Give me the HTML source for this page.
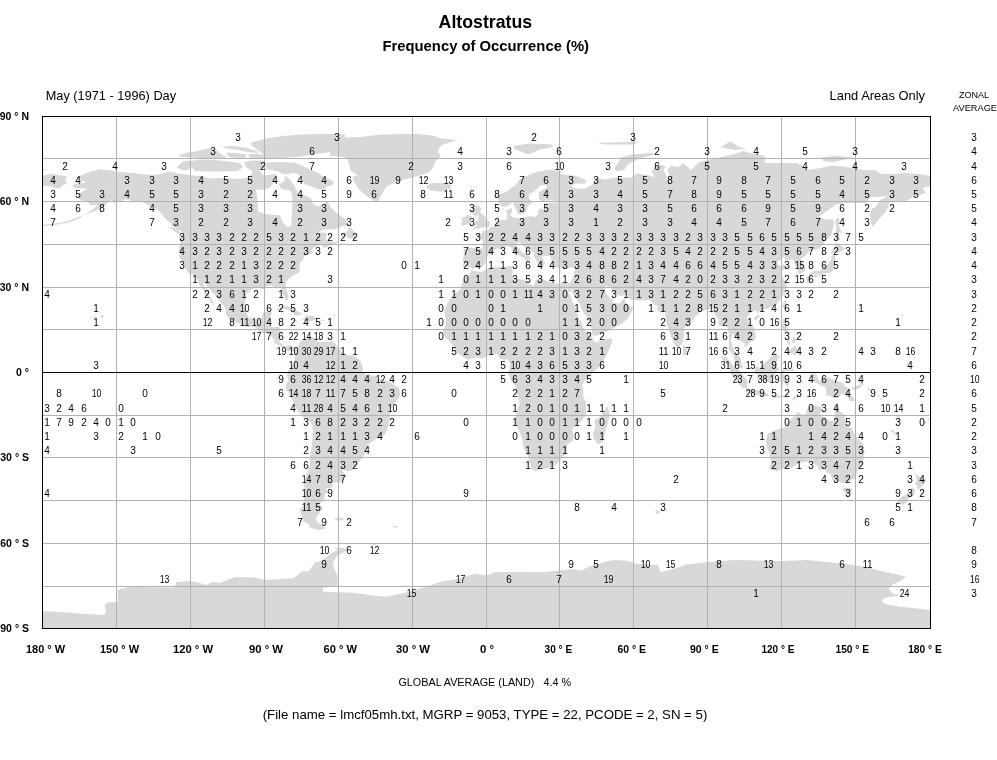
<!DOCTYPE html>
<html><head><meta charset="utf-8"><style>html,body{margin:0;padding:0;background:#fff;overflow:hidden;}svg{display:block;font-family:"Liberation Sans",sans-serif;filter:grayscale(100%);}</style></head>
<body><svg width="997" height="760" viewBox="0 0 997 760"><polygon points="71.6,185.4 76.5,183.4 86.4,182.8 80.2,180.0 74.6,177.7 83.9,174.3 91.3,171.5 100.0,169.2 111.1,170.6 120.9,172.0 133.3,172.9 143.1,174.3 153.0,174.9 160.4,173.7 170.3,171.5 177.7,173.5 190.0,175.2 202.3,176.3 209.7,178.6 219.6,178.0 229.5,178.6 239.3,179.1 246.7,178.0 251.7,174.3 252.9,168.6 257.8,168.6 264.0,175.7 273.9,174.3 283.7,173.5 288.7,178.6 293.6,184.3 296.1,190.0 298.5,193.9 303.5,194.8 310.9,197.9 313.3,204.2 318.3,206.5 323.2,204.7 326.9,200.5 330.6,207.0 334.3,211.3 339.2,214.7 344.2,218.4 348.4,222.7 347.9,225.2 342.9,226.1 335.5,229.2 328.1,229.2 322.0,230.3 317.0,232.6 312.1,237.5 314.6,235.8 322.0,232.3 327.4,233.2 326.2,236.0 325.7,239.2 328.1,241.2 334.3,242.0 338.0,241.2 338.0,242.3 331.8,244.9 323.9,248.3 322.7,245.7 320.7,244.9 315.8,246.8 312.8,248.0 311.4,250.8 313.3,253.1 309.6,254.5 304.0,256.2 303.5,259.4 301.0,261.6 299.3,265.3 299.8,271.6 297.1,273.6 292.4,275.9 289.9,278.1 286.2,281.3 285.5,285.8 287.4,292.4 288.7,296.6 287.7,300.3 286.0,300.3 284.2,296.6 282.0,292.9 282.0,288.9 278.8,286.7 275.3,287.5 271.4,285.5 266.5,285.8 265.7,288.9 262.8,289.5 259.1,287.8 254.1,287.8 251.7,289.5 246.7,293.2 245.7,298.6 245.0,303.7 246.0,309.4 246.0,312.3 248.7,317.4 252.9,320.2 259.1,319.1 261.5,318.0 263.0,312.8 268.9,310.8 271.9,311.7 270.2,318.0 268.4,325.6 272.6,327.1 278.8,327.1 280.8,329.6 279.8,336.4 279.5,340.7 281.3,343.6 285.0,346.7 289.9,344.7 294.6,347.5 295.6,349.5 293.6,351.5 288.2,351.2 284.5,349.2 278.8,345.0 274.6,343.6 274.4,339.9 270.2,335.0 261.5,332.5 258.3,330.8 254.1,326.5 248.0,327.3 243.0,325.6 235.6,322.2 228.2,317.4 225.8,313.7 226.3,310.3 223.3,305.2 218.4,299.5 215.9,296.1 212.2,292.4 208.0,286.7 203.1,281.8 204.1,286.7 208.0,291.5 209.7,296.6 213.4,302.3 214.7,306.9 211.0,302.3 209.0,298.6 204.1,293.8 204.3,290.9 199.9,285.8 197.2,279.6 193.7,275.3 188.5,273.6 185.3,268.2 183.8,264.5 180.6,258.8 179.1,257.1 179.9,252.5 178.9,249.7 180.4,240.6 178.4,234.3 182.6,234.9 181.4,231.2 176.4,228.9 171.5,225.5 170.3,222.7 165.3,218.4 161.6,214.1 155.5,208.4 149.3,205.6 141.9,201.9 133.3,201.3 125.9,199.3 120.9,201.3 114.3,203.0 111.1,199.9 106.1,204.2 101.2,207.9 96.3,210.4 88.9,213.3 82.7,216.1 86.4,213.8 93.8,208.4 97.5,205.0 91.3,205.3 86.4,201.6 80.2,199.9 77.8,197.1 79.5,193.4 87.6,188.5 76.5,188.2 71.6,185.4" fill="#d8d8d8"/><polygon points="181.9,234.6 176.4,232.9 169.5,227.8 172.7,227.5 178.2,230.1" fill="#d8d8d8"/><polygon points="426.8,185.7 431.7,183.1 446.5,182.8 451.5,185.7 450.2,188.8 441.6,191.7 430.5,190.5 426.8,187.7" fill="#d8d8d8"/><polygon points="462.6,266.8 464.0,262.5 462.6,259.6 464.3,254.0 463.3,249.7 466.3,247.7 476.1,248.3 482.3,248.6 483.0,241.2 479.8,237.5 474.4,234.3 482.3,233.5 482.3,230.6 486.5,230.9 489.7,229.2 489.9,227.2 493.4,226.4 495.9,224.7 497.8,221.2 503.3,219.8 507.0,219.8 507.2,215.6 506.0,210.4 511.9,207.9 511.9,211.9 510.2,215.6 512.9,217.3 515.6,217.8 520.5,218.4 526.7,216.7 531.6,216.1 534.8,217.3 537.8,214.7 537.8,210.4 540.3,208.2 544.0,209.9 545.9,207.6 544.0,203.6 555.1,202.8 560.0,201.3 550.1,200.2 542.2,201.3 538.8,199.1 539.0,195.6 538.3,192.2 542.7,190.0 547.7,187.1 545.2,184.8 540.3,185.4 537.8,188.5 534.1,191.4 529.2,194.2 528.7,198.5 531.6,200.8 532.4,203.0 527.9,205.6 526.7,209.9 525.5,212.1 521.3,214.1 517.8,214.4 517.1,212.1 515.1,207.9 513.6,204.2 512.4,201.6 510.7,204.2 505.7,206.7 502.0,206.7 499.8,204.5 498.3,199.9 498.3,195.6 502.0,193.4 507.0,191.4 510.7,188.5 515.6,184.8 519.3,180.0 523.0,177.2 527.9,175.4 532.9,172.9 540.3,171.5 548.9,169.8 555.1,170.0 562.5,172.0 558.8,173.7 567.4,174.9 574.8,175.7 582.2,178.3 587.1,180.9 584.7,183.4 573.6,183.7 571.8,187.1 577.3,189.1 585.9,188.2 593.3,183.7 594.5,179.1 595.8,177.4 599.5,178.6 604.4,179.4 618.0,177.2 619.2,178.0 631.5,177.2 634.0,175.7 636.5,173.5 648.8,175.2 655.0,177.7 651.3,170.9 653.7,168.6 658.7,163.5 661.1,164.9 665.6,166.6 663.6,170.6 667.3,177.2 664.8,180.0 669.8,177.2 667.3,170.0 671.0,165.8 678.4,167.2 683.3,162.9 690.7,170.0 689.5,171.5 698.1,162.9 700.6,161.5 720.3,157.2 732.7,154.4 743.8,151.0 749.9,153.0 764.7,155.8 764.7,162.9 777.1,162.9 796.8,162.9 804.2,167.2 809.1,170.0 819.0,168.3 831.3,165.8 843.7,166.6 856.0,168.6 863.4,170.0 875.7,170.3 880.7,173.7 893.0,174.0 905.3,172.9 917.7,173.7 930.0,176.0 930.0,186.3 922.6,188.0 926.3,192.8 915.2,196.2 905.3,201.3 895.5,201.9 889.3,202.2 888.1,207.0 885.6,212.1 880.7,217.0 877.0,221.5 872.5,226.9 870.8,222.7 869.8,215.6 872.0,208.4 875.7,207.0 880.7,199.9 888.1,195.6 880.7,197.1 870.8,196.8 865.9,203.6 856.0,202.8 843.7,203.3 836.3,204.2 832.6,207.0 826.4,211.3 819.0,216.4 823.9,219.0 832.6,219.8 834.5,222.7 832.6,229.8 831.3,235.5 826.4,239.7 820.2,247.7 814.1,250.3 810.4,251.1 808.4,251.7 805.9,255.4 801.7,258.2 800.5,259.1 803.0,262.5 805.2,266.8 805.2,271.0 800.5,273.3 797.5,273.9 798.0,270.2 798.0,266.8 794.8,264.8 794.3,262.5 793.1,258.8 785.7,261.1 784.5,256.2 779.5,260.2 776.6,262.5 778.3,263.9 780.0,266.2 783.7,264.5 788.2,266.5 783.2,269.6 780.8,272.4 784.0,279.6 786.4,283.0 786.9,286.7 785.7,290.9 781.5,298.0 775.8,305.2 767.7,308.6 762.3,310.3 758.6,311.7 757.8,314.3 756.6,310.8 752.4,310.8 748.9,314.3 746.7,318.0 748.7,322.2 754.4,328.2 755.9,336.4 754.9,339.9 749.2,342.7 745.0,347.5 744.5,343.0 740.1,340.7 738.3,337.3 734.9,335.9 732.7,333.6 730.7,340.7 733.2,347.8 735.1,352.4 738.1,354.4 741.1,359.2 741.3,364.3 743.3,368.0 741.3,368.3 735.9,364.0 733.7,359.2 733.4,355.5 728.5,349.2 729.0,343.6 729.0,335.0 727.0,325.1 725.8,323.9 719.1,326.5 718.4,318.8 715.4,315.1 712.9,310.8 712.4,308.0 709.2,309.4 705.5,310.0 700.4,311.7 695.7,316.5 689.0,324.8 684.1,327.9 683.8,335.0 682.8,342.7 678.9,346.7 677.2,349.0 674.2,343.8 671.0,336.4 668.5,329.3 666.1,322.2 665.6,316.5 665.1,311.4 664.1,310.8 659.9,312.8 656.2,308.6 659.2,306.9 654.7,304.9 651.3,301.5 650.3,299.8 645.1,300.3 637.9,300.3 629.1,299.2 627.3,295.2 624.9,294.9 620.4,296.1 614.3,292.9 610.6,288.1 606.4,286.1 604.4,287.0 606.4,293.8 609.3,297.5 611.3,299.5 613.0,298.3 612.3,302.3 619.2,303.4 624.1,298.6 625.1,296.9 624.9,301.5 627.8,304.3 633.5,308.0 630.3,313.7 628.3,318.0 625.4,320.8 621.7,323.6 614.8,327.6 606.9,331.6 597.0,335.6 593.1,335.9 591.3,329.3 590.8,324.2 586.6,316.5 582.2,310.8 579.7,303.7 576.0,298.0 572.3,292.4 572.1,288.1 570.6,292.4 568.6,291.5 566.2,286.7 565.7,283.3 570.4,283.0 572.3,278.7 573.6,273.9 574.8,270.2 575.3,267.9 571.1,267.3 566.2,269.3 561.2,268.2 555.1,267.6 553.3,265.3 551.4,262.5 551.4,259.6 550.6,257.4 550.1,255.9 545.2,255.9 542.2,256.8 544.0,261.1 545.2,263.3 542.7,265.9 541.5,268.5 539.5,267.3 538.3,263.9 535.8,259.6 533.9,256.8 533.9,253.1 531.6,251.1 525.5,248.3 523.0,245.4 519.8,242.3 516.3,243.1 516.8,246.8 519.5,248.3 521.8,252.0 525.5,254.0 531.6,257.7 527.9,260.5 526.7,262.5 524.7,263.9 525.5,259.6 524.2,257.9 520.5,255.9 516.8,254.0 513.1,251.1 511.9,248.3 507.7,245.7 504.5,247.4 500.8,249.4 497.1,248.6 493.4,249.7 493.9,252.5 488.0,255.4 486.0,259.6 485.3,262.5 484.0,265.0 480.8,267.6 474.9,268.2 472.2,269.6 470.5,267.3 467.5,266.2 464.0,266.8" fill="#d8d8d8"/><polygon points="42.0,176.0 51.9,173.5 59.3,174.9 66.7,176.3 65.4,180.6 67.4,184.0 63.0,184.8 59.3,188.5 54.3,187.7 49.4,185.7 45.7,185.7 42.0,186.3" fill="#d8d8d8"/><polygon points="471.4,270.2 481.1,272.2 488.5,268.2 493.4,267.3 503.3,266.8 510.7,265.9 513.1,266.8 511.9,269.6 513.1,272.4 510.9,274.7 514.4,277.6 518.1,278.4 523.7,280.1 527.9,283.8 532.9,285.8 535.3,283.8 535.3,280.4 539.0,278.4 542.7,279.3 547.7,281.5 557.5,284.1 562.5,282.1 565.7,283.3 566.2,286.7 567.4,290.9 569.9,295.2 573.6,303.7 577.3,310.8 578.0,318.0 581.2,321.4 583.4,327.9 588.4,333.6 592.8,336.7 592.8,339.3 595.8,342.4 601.9,340.1 612.3,338.4 611.8,342.4 608.1,352.1 604.4,359.2 599.5,366.3 592.1,373.4 588.4,377.1 584.7,380.5 582.2,385.4 583.4,391.9 583.2,396.2 585.9,401.9 585.9,414.7 582.2,420.4 576.0,425.5 572.3,428.9 573.6,434.6 573.6,440.3 567.4,444.5 566.9,447.4 566.2,453.1 562.5,457.3 560.0,461.0 555.1,465.3 550.1,468.1 545.2,468.7 540.3,469.3 535.3,471.0 531.6,469.3 530.4,464.4 527.9,455.9 523.7,448.8 521.8,437.4 519.3,431.7 515.6,423.2 515.1,418.9 516.8,410.4 520.0,403.3 518.1,397.6 516.1,389.1 515.6,386.2 510.7,380.5 508.2,374.0 509.4,369.2 510.2,363.5 508.2,360.6 507.0,359.2 503.3,359.8 499.6,358.3 497.1,354.1 490.9,354.1 483.5,357.8 481.1,358.6 476.1,357.2 467.5,359.5 463.8,357.8 457.6,352.7 453.9,348.7 452.7,345.0 449.0,340.7 444.8,336.7 442.8,330.2 445.3,326.5 446.0,318.0 444.1,312.3 446.5,305.2 450.2,298.0 453.9,293.2 457.6,291.8 461.3,288.1 461.8,283.3 465.0,277.3 469.2,275.3 471.2,270.5" fill="#d8d8d8"/><polygon points="607.6,406.1 610.3,416.1 608.1,421.8 605.6,430.3 603.2,441.7 597.5,444.5 593.8,438.8 592.8,433.2 595.5,427.5 594.5,420.4 599.5,416.9 604.4,410.4" fill="#d8d8d8"/><polygon points="295.3,347.8 298.5,345.0 299.8,342.1 303.5,340.1 308.4,337.3 309.6,340.7 308.9,338.4 313.3,337.3 318.3,342.1 323.2,341.8 328.1,341.6 333.1,341.6 335.5,343.6 338.0,347.8 341.7,352.1 345.4,354.9 352.8,355.5 357.7,358.3 360.2,360.6 362.7,366.9 362.7,372.0 366.4,374.8 375.0,375.7 382.4,380.0 389.8,382.0 394.7,385.7 399.2,387.6 400.2,393.3 399.2,397.6 394.7,403.3 391.0,409.0 389.8,414.7 389.3,422.3 387.3,428.9 384.9,434.6 379.9,437.4 375.0,439.7 367.6,444.5 366.1,451.6 362.7,457.3 359.0,462.5 355.3,467.3 351.6,471.0 346.6,471.0 343.4,469.6 341.7,470.1 344.7,473.8 344.2,480.1 338.0,482.4 332.3,482.4 332.6,487.2 325.7,488.6 328.1,492.3 324.9,494.3 324.4,500.0 319.5,504.0 323.2,508.0 318.3,514.2 315.8,518.5 317.3,521.0 313.3,522.8 310.9,525.6 303.5,521.3 299.8,510.0 303.5,504.3 304.7,491.5 304.2,482.9 305.9,477.2 309.6,465.9 309.9,457.3 312.1,443.1 312.8,428.9 312.3,424.3 309.6,421.8 301.0,415.5 297.8,410.4 294.8,406.1 291.1,397.6 287.9,391.9 285.5,387.6 286.2,383.4 288.7,380.5 286.7,374.8 288.7,370.6 291.1,367.7 291.6,364.9 294.8,360.6 295.1,353.5 293.6,350.7" fill="#d8d8d8"/><polygon points="316.8,521.6 325.7,528.4 318.3,529.9 308.4,527.0 313.3,522.8" fill="#d8d8d8"/><polygon points="767.2,434.6 766.0,441.7 767.2,447.4 769.7,455.9 771.4,463.0 769.7,467.6 769.7,469.6 777.1,471.6 782.0,468.7 790.6,468.4 796.8,463.9 804.2,461.9 810.4,461.6 816.5,465.0 820.2,471.0 823.9,467.3 825.9,464.4 825.2,470.1 827.6,473.0 830.1,473.5 832.6,480.1 840.0,482.4 846.9,483.2 851.1,479.5 856.0,478.7 856.5,473.0 859.2,468.1 862.2,463.9 864.6,453.1 863.4,444.5 858.5,438.8 854.8,434.6 852.3,429.5 846.1,424.6 844.9,417.5 844.4,414.1 840.0,411.8 837.5,402.4 835.3,407.6 835.0,414.7 833.3,421.5 828.9,420.4 823.9,416.9 820.2,414.7 822.7,406.1 823.4,407.0 819.0,406.7 812.8,404.7 809.1,406.7 806.7,409.8 805.4,414.7 801.7,414.7 798.0,411.8 794.3,416.1 790.6,418.9 787.4,423.2 784.5,427.5 779.5,428.9 773.9,430.6 768.4,433.2" fill="#d8d8d8"/><polygon points="842.7,487.8 851.8,488.3 851.1,494.3 848.1,496.0 844.2,492.0" fill="#d8d8d8"/><polygon points="912.0,469.8 916.4,474.4 919.6,476.7 926.3,479.2 924.8,483.5 922.1,485.8 918.2,490.3 916.7,485.2 914.7,483.5 916.7,481.5 916.4,476.7" fill="#d8d8d8"/><polygon points="912.0,487.2 915.9,490.6 912.7,495.7 908.3,498.6 906.6,502.6 902.9,504.8 896.7,502.8 897.4,500.0 901.1,497.2 906.6,494.3 910.3,490.0" fill="#d8d8d8"/><polygon points="808.9,275.3 812.8,271.3 820.2,270.7 823.4,265.9 827.6,264.5 831.3,259.6 831.3,255.9 835.0,254.2 835.0,258.2 836.3,260.2 833.8,263.1 833.8,267.3 833.1,270.5 830.8,272.4 827.6,273.3 823.9,273.6 819.7,276.7 819.0,273.6 814.1,274.4 809.1,275.6" fill="#d8d8d8"/><polygon points="805.9,277.3 809.1,275.6 811.6,278.1 809.9,282.7 807.2,283.5 806.2,279.0" fill="#d8d8d8"/><polygon points="812.8,277.6 814.1,275.3 818.0,274.7 818.5,276.1 815.3,277.6" fill="#d8d8d8"/><polygon points="831.3,254.0 834.3,253.1 839.5,252.5 844.9,248.8 842.4,246.8 836.0,242.6 834.5,248.3 832.1,249.1 831.6,252.0" fill="#d8d8d8"/><polygon points="836.3,241.2 840.0,239.7 839.0,232.1 842.4,233.2 838.7,225.5 839.5,219.8 837.5,217.5 835.5,220.4 836.3,226.9 835.8,235.5" fill="#d8d8d8"/><polygon points="782.2,306.6 784.5,300.0 786.9,300.9 784.5,309.4" fill="#d8d8d8"/><polygon points="753.9,317.4 758.6,314.8 759.8,316.2 756.1,320.2 754.1,319.4" fill="#d8d8d8"/><polygon points="782.0,326.5 783.2,319.4 787.7,319.4 786.9,325.1 788.2,332.2 791.9,335.0 789.4,333.6 785.7,332.7 783.5,331.0" fill="#d8d8d8"/><polygon points="786.9,352.1 790.6,349.2 795.6,345.0 798.0,350.7 795.6,355.5 791.9,353.5" fill="#d8d8d8"/><polygon points="793.1,336.4 796.1,340.1 794.3,343.6 791.9,342.1" fill="#d8d8d8"/><polygon points="786.9,338.4 789.9,340.7 789.4,345.8 787.7,343.6" fill="#d8d8d8"/><polygon points="754.9,367.7 756.3,366.3 759.8,367.7 764.7,362.9 770.9,356.9 774.1,352.1 780.3,356.9 777.1,359.2 776.6,366.3 779.5,369.7 775.8,372.0 773.4,379.1 772.1,382.8 768.4,382.0 764.7,381.1 761.5,380.5 757.8,380.2 757.3,376.3 754.9,372.0" fill="#d8d8d8"/><polygon points="721.1,356.1 726.5,357.2 729.0,361.2 733.9,366.3 741.3,372.0 743.8,376.3 747.5,380.5 747.0,388.5 743.8,388.8 738.3,383.4 735.1,379.1 731.4,374.8 729.5,367.7 726.0,363.8 722.8,359.8" fill="#d8d8d8"/><polygon points="745.5,391.3 747.5,388.8 753.1,389.9 758.6,390.5 763.5,391.6 768.4,394.2 768.2,396.7 759.8,395.6 752.4,394.2 748.7,393.0" fill="#d8d8d8"/><polygon points="791.9,400.4 794.3,396.2 799.8,395.9 792.6,400.7" fill="#d8d8d8"/><polygon points="772.1,396.2 779.5,395.3 789.4,395.3 789.4,397.0 779.5,397.6 772.1,397.6" fill="#d8d8d8"/><polygon points="779.0,380.5 780.3,372.0 782.0,370.0 785.7,369.2 791.9,369.4 794.3,367.7 793.1,370.9 784.5,371.1 782.5,374.3 785.7,374.8 790.1,374.3 785.7,377.4 788.9,384.8 787.9,387.4 784.5,383.4 783.5,380.0 783.0,387.6 780.8,387.6 780.8,382.0" fill="#d8d8d8"/><polygon points="809.1,375.7 812.8,373.1 816.5,374.6 819.0,381.4 825.2,376.3 831.3,378.8 837.5,381.1 842.4,383.1 845.6,386.8 849.8,389.4 849.1,393.0 852.3,396.2 856.0,401.3 849.8,400.7 846.1,395.0 841.2,393.9 839.5,397.6 833.8,398.2 828.9,395.0 826.4,395.9 825.7,387.6 819.0,384.5 815.3,382.8 811.6,380.0 814.1,378.8" fill="#d8d8d8"/><polygon points="852.3,387.6 856.0,386.2 860.9,383.9 861.7,386.2 857.2,389.6 852.3,389.4" fill="#d8d8d8"/><polygon points="682.8,354.4 683.3,345.0 685.8,347.8 688.0,351.5 687.0,354.4 684.6,355.2" fill="#d8d8d8"/><polygon points="471.9,229.8 478.6,228.1 489.5,226.6 490.2,222.1 486.7,220.1 485.5,217.5 482.1,213.8 479.8,212.7 481.6,208.4 477.9,205.3 473.7,205.3 471.7,208.4 472.2,212.7 473.9,215.6 478.6,215.8 477.9,218.4 478.8,220.4 474.7,220.7 475.4,222.7 473.2,224.9 478.1,225.8 475.4,226.4" fill="#d8d8d8"/><polygon points="471.2,223.5 470.7,218.7 472.2,216.7 468.0,214.7 465.0,216.7 461.3,217.8 462.3,221.2 460.6,224.4 462.6,225.5 466.3,224.7" fill="#d8d8d8"/><polygon points="513.1,145.9 523.0,144.4 530.4,143.6 542.7,143.9 552.6,144.4 552.6,147.3 540.3,149.3 531.6,153.5 526.7,154.1 520.5,151.6 514.4,148.7" fill="#d8d8d8"/><polygon points="614.3,168.6 618.0,162.9 621.7,157.2 631.5,154.4 651.3,153.0 655.0,154.4 638.9,158.7 627.8,164.4 624.1,170.0 616.7,171.2" fill="#d8d8d8"/><polygon points="720.3,147.3 730.2,141.6 737.6,145.9 745.0,148.7 735.1,150.1" fill="#d8d8d8"/><polygon points="821.5,157.2 836.3,155.8 853.5,157.8 833.8,162.1 823.9,161.5" fill="#d8d8d8"/><polygon points="597.0,143.0 638.9,141.6 634.0,144.4 604.4,144.4" fill="#d8d8d8"/><polygon points="42.0,168.6 48.2,169.5 44.5,170.3 42.0,170.0" fill="#d8d8d8"/><polygon points="276.6,309.7 281.3,306.6 287.4,306.3 294.8,310.0 299.5,312.3 303.0,314.5 294.8,315.4 293.6,313.1 288.7,310.3 283.7,308.6 278.8,310.0" fill="#d8d8d8"/><polygon points="302.5,319.7 306.4,315.4 313.3,316.0 317.3,319.1 313.3,320.2 309.6,321.7 305.9,320.8" fill="#d8d8d8"/><polygon points="292.9,319.7 298.0,320.8 296.1,321.7 292.9,320.2" fill="#d8d8d8"/><polygon points="320.2,319.4 324.2,319.9 323.7,320.8 320.2,320.8" fill="#d8d8d8"/><polygon points="339.5,236.6 347.9,230.6 349.1,225.2 354.0,231.8 356.3,236.9 354.0,239.4 349.1,238.3 346.6,236.6" fill="#d8d8d8"/><polygon points="392.3,525.6 397.2,526.2 397.7,527.9 393.5,527.0" fill="#d8d8d8"/><polygon points="334.8,517.9 342.9,517.9 343.7,519.6 339.2,521.0 335.5,519.9" fill="#d8d8d8"/><polygon points="333.1,548.1 344.2,547.8 344.2,549.8 340.5,550.6" fill="#d8d8d8"/><polygon points="371.3,544.1 376.2,544.1 376.2,544.9 371.3,544.9" fill="#d8d8d8"/><polygon points="655.5,510.2 659.9,510.8 659.4,513.4 656.2,513.7" fill="#d8d8d8"/><polygon points="81.5,215.6 76.5,217.8 71.6,219.8 66.7,221.2 60.5,222.7 51.9,224.1 42.2,224.7 42.2,226.1 51.9,225.5 60.5,224.1 66.7,222.7 71.6,221.5 76.5,219.5 81.5,217.3" fill="#d8d8d8"/><polygon points="101.2,314.5 103.7,315.7 104.2,316.5 102.2,318.2 101.2,316.8" fill="#d8d8d8"/><polygon points="99.5,312.3 101.2,312.6 101.2,313.4 99.5,313.1" fill="#d8d8d8"/><polygon points="95.5,310.6 97.0,310.8 97.0,311.7 95.8,311.4" fill="#d8d8d8"/><polygon points="91.8,308.9 93.1,308.9 92.8,309.7 91.8,309.7" fill="#d8d8d8"/><polygon points="890.5,429.5 893.0,430.6 897.9,435.1 897.4,436.0 891.0,431.2" fill="#d8d8d8"/><polygon points="923.1,421.8 926.3,421.2 926.5,423.8 923.3,423.5" fill="#d8d8d8"/><polygon points="927.0,418.4 930.0,418.1 930.0,419.8 927.5,419.8" fill="#d8d8d8"/><polygon points="896.7,414.7 898.7,415.5 901.4,421.8 899.9,422.3 896.9,416.9" fill="#d8d8d8"/><polygon points="879.7,398.2 882.6,399.9 881.9,400.4 880.2,399.9" fill="#d8d8d8"/><polygon points="882.1,395.6 884.4,398.5 883.9,399.3 882.6,397.3" fill="#d8d8d8"/><polygon points="876.2,393.0 880.2,395.9 879.7,396.5 876.5,394.2" fill="#d8d8d8"/><polygon points="867.3,386.2 870.6,389.9 869.6,391.3 867.6,388.5" fill="#d8d8d8"/><polygon points="857.2,379.1 861.4,381.4 863.9,385.1 862.9,385.7 859.7,383.1 857.0,380.0" fill="#d8d8d8"/><polygon points="42.0,611.0 64.0,612.3 86.5,613.9 104.0,615.0 106.0,612.0 104.5,605.0 108.0,602.5 117.7,602.0 117.7,590.0 122.0,588.5 130.0,587.0 175.0,587.5 176.0,582.0 190.0,581.0 200.0,583.0 206.0,585.0 212.0,582.0 220.0,583.0 227.0,580.0 235.0,577.0 255.0,577.5 264.0,580.0 293.0,578.3 297.4,575.6 301.9,571.2 308.5,571.2 310.8,568.5 315.2,562.3 319.7,561.2 324.1,558.9 330.8,553.4 337.5,550.0 344.2,548.5 347.5,549.4 344.2,552.2 337.5,555.6 333.0,562.3 334.2,569.0 337.5,575.6 337.5,585.7 323.0,588.0 323.0,591.7 353.1,592.8 375.4,595.7 386.5,596.8 402.1,593.5 415.4,590.1 428.8,585.7 442.2,581.2 457.8,579.0 475.6,573.4 486.0,575.6 494.9,572.3 519.4,571.8 541.7,572.3 559.5,570.5 570.6,569.0 581.8,570.5 588.4,566.7 608.5,561.1 615.2,560.0 628.5,561.1 635.2,563.8 657.5,565.1 660.8,572.3 664.2,571.2 677.5,567.8 686.4,564.5 708.0,562.0 734.7,560.0 781.5,561.1 808.2,560.0 850.5,564.5 863.9,566.7 881.7,571.2 897.3,574.5 906.2,576.7 901.8,580.0 892.9,584.5 888.4,589.0 892.9,593.4 899.5,595.7 884.0,597.9 881.7,601.2 886.2,604.6 901.8,606.8 930.0,610.1 930.0,628.0 42.0,628.0" fill="#d8d8d8"/><polygon points="330.0,137.4 344.0,137.4 360.9,136.9 372.1,135.5 383.4,134.6 400.2,134.1 417.1,134.1 428.3,135.1 435.3,136.2 439.6,138.3 449.4,139.0 457.8,140.2 450.8,141.9 442.4,144.7 439.6,147.5 438.1,151.7 441.0,155.9 438.1,158.7 435.3,161.5 433.9,165.7 431.1,169.9 428.3,172.8 421.3,174.9 414.3,177.0 408.7,178.4 403.0,179.8 397.4,182.6 391.8,184.0 386.2,186.8 383.4,191.0 380.6,196.6 377.8,201.5 374.9,201.5 369.3,198.0 363.7,193.8 358.1,188.2 353.9,181.2 352.5,177.0 358.1,174.9 351.1,171.3 349.7,167.1 348.3,161.5 346.9,158.7 344.0,157.3 338.4,156.6 330.0,155.9" fill="#d8d8d8"/><polygon points="250.9,142.6 260.2,140.2 271.3,137.6 286.2,135.8 301.0,134.6 319.6,133.9 338.1,133.9 345.0,134.6 345.0,150.0 327.0,152.5 312.1,154.7 297.3,156.9 282.4,158.0 269.5,158.0 263.9,154.7 256.5,149.1 251.8,145.4" fill="#d8d8d8"/><polygon points="179.0,155.6 187.1,152.6 196.1,151.5 202.1,150.0 208.1,148.5 215.1,149.0 217.1,151.0 221.2,154.6 225.2,156.1 226.2,157.6 222.2,158.6 200.1,158.1 190.1,157.6 180.0,157.1" fill="#d8d8d8"/><polygon points="223.2,146.5 232.2,146.0 240.2,147.0 246.2,147.5 250.2,149.0 257.3,151.0 258.3,153.1 252.2,152.6 245.2,151.5 238.2,150.0 230.2,149.0 224.2,148.0" fill="#d8d8d8"/><polygon points="227.2,152.6 235.2,153.1 245.2,154.1 246.2,157.6 240.2,158.1 230.2,157.6 227.2,155.1" fill="#d8d8d8"/><polygon points="248.2,154.1 258.3,154.1 264.3,155.1 270.0,154.6 275.0,156.0 270.0,158.1 250.2,158.1" fill="#d8d8d8"/><polygon points="177.0,167.1 180.0,164.1 183.0,161.6 188.1,160.6 190.1,161.1 190.1,169.1 185.0,170.6 179.0,169.1" fill="#d8d8d8"/><polygon points="191.0,161.0 200.0,159.5 215.0,160.0 228.0,161.5 240.0,163.0 243.0,167.0 238.0,171.0 225.0,171.5 210.0,171.5 195.0,171.0 191.0,167.0" fill="#d8d8d8"/><polygon points="244.0,162.0 252.0,160.5 262.0,160.5 265.0,165.0 262.0,170.0 256.0,172.0 250.0,170.0 246.0,167.0" fill="#d8d8d8"/><polygon points="265.8,162.2 286.6,162.2 295.6,163.1 304.6,166.7 311.0,170.3 318.2,173.1 323.6,176.7 329.9,179.4 334.4,182.1 332.6,184.8 327.2,186.6 323.6,190.2 318.2,189.3 311.0,186.6 305.5,184.8 301.9,182.1 301.9,177.6 298.3,174.0 292.9,173.1 286.6,174.4 282.1,173.5 277.6,171.2 271.2,169.9 265.8,168.5" fill="#d8d8d8"/><polygon points="256.1,190.0 257.6,201.3 257.8,211.3 264.0,213.8 273.9,214.7 280.0,215.6 283.0,222.7 287.4,226.9 291.1,226.1 291.6,218.4 292.1,209.9 292.4,201.3 292.1,194.2 289.9,190.5 281.3,189.1 278.8,184.3 283.7,181.4 286.2,174.3 278.8,172.9 275.6,175.7 274.9,180.0 272.6,184.3 268.9,188.2 264.0,189.4" fill="#fff"/><g stroke="#b2b2b2" stroke-width="1"><line x1="116.5" y1="116" x2="116.5" y2="628"/><line x1="190.5" y1="116" x2="190.5" y2="628"/><line x1="264.5" y1="116" x2="264.5" y2="628"/><line x1="338.5" y1="116" x2="338.5" y2="628"/><line x1="412.5" y1="116" x2="412.5" y2="628"/><line x1="486.5" y1="116" x2="486.5" y2="628"/><line x1="559.5" y1="116" x2="559.5" y2="628"/><line x1="633.5" y1="116" x2="633.5" y2="628"/><line x1="707.5" y1="116" x2="707.5" y2="628"/><line x1="781.5" y1="116" x2="781.5" y2="628"/><line x1="855.5" y1="116" x2="855.5" y2="628"/><line x1="42" y1="158.5" x2="930" y2="158.5"/><line x1="42" y1="201.5" x2="930" y2="201.5"/><line x1="42" y1="244.5" x2="930" y2="244.5"/><line x1="42" y1="287.5" x2="930" y2="287.5"/><line x1="42" y1="329.5" x2="930" y2="329.5"/><line x1="42" y1="415.5" x2="930" y2="415.5"/><line x1="42" y1="457.5" x2="930" y2="457.5"/><line x1="42" y1="500.5" x2="930" y2="500.5"/><line x1="42" y1="543.5" x2="930" y2="543.5"/><line x1="42" y1="586.5" x2="930" y2="586.5"/></g><line x1="42" y1="372.5" x2="930" y2="372.5" stroke="#000" stroke-width="1"/><rect x="42.5" y="116.5" width="888" height="512" fill="none" stroke="#000" stroke-width="1"/><g font-family="Liberation Sans, sans-serif" fill="#000"><text x="438.6" y="27.8" font-size="18.4" font-weight="bold" textLength="93.5" lengthAdjust="spacingAndGlyphs">Altostratus</text><text x="382.5" y="50.5" font-size="14.5" font-weight="bold" textLength="206.5" lengthAdjust="spacingAndGlyphs">Frequency of Occurrence (%)</text><text x="45.7" y="100" font-size="13" textLength="130.4" lengthAdjust="spacingAndGlyphs">May (1971 - 1996) Day</text><text x="829.6" y="99.8" font-size="13" textLength="95.4" lengthAdjust="spacingAndGlyphs">Land Areas Only</text><text x="959" y="98" font-size="9.5" textLength="30" lengthAdjust="spacingAndGlyphs">ZONAL</text><text x="953" y="111.2" font-size="9.5" textLength="44" lengthAdjust="spacingAndGlyphs">AVERAGE</text><text x="29" y="119.8" font-size="10.5" text-anchor="end" font-weight="bold">90 ° N</text><text x="29" y="204.8" font-size="10.5" text-anchor="end" font-weight="bold">60 ° N</text><text x="29" y="290.8" font-size="10.5" text-anchor="end" font-weight="bold">30 ° N</text><text x="29" y="375.8" font-size="10.5" text-anchor="end" font-weight="bold">0 °</text><text x="29" y="460.8" font-size="10.5" text-anchor="end" font-weight="bold">30 ° S</text><text x="29" y="546.8" font-size="10.5" text-anchor="end" font-weight="bold">60 ° S</text><text x="29" y="631.8" font-size="10.5" text-anchor="end" font-weight="bold">90 ° S</text><text x="26.0" y="653" font-size="10.5" font-weight="bold" textLength="39" lengthAdjust="spacingAndGlyphs">180 ° W</text><text x="100.0" y="653" font-size="10.5" font-weight="bold" textLength="39" lengthAdjust="spacingAndGlyphs">150 ° W</text><text x="173.0" y="653" font-size="10.5" font-weight="bold" textLength="40" lengthAdjust="spacingAndGlyphs">120 ° W</text><text x="249.0" y="653" font-size="10.5" font-weight="bold" textLength="34" lengthAdjust="spacingAndGlyphs">90 ° W</text><text x="323.6" y="653" font-size="10.5" font-weight="bold" textLength="33.5" lengthAdjust="spacingAndGlyphs">60 ° W</text><text x="396.0" y="653" font-size="10.5" font-weight="bold" textLength="34" lengthAdjust="spacingAndGlyphs">30 ° W</text><text x="480.0" y="653" font-size="10.5" font-weight="bold" textLength="14" lengthAdjust="spacingAndGlyphs">0 °</text><text x="544.6" y="653" font-size="10.5" font-weight="bold" textLength="27.6" lengthAdjust="spacingAndGlyphs">30 ° E</text><text x="617.4" y="653" font-size="10.5" font-weight="bold" textLength="28.6" lengthAdjust="spacingAndGlyphs">60 ° E</text><text x="690.0" y="653" font-size="10.5" font-weight="bold" textLength="28.7" lengthAdjust="spacingAndGlyphs">90 ° E</text><text x="761.4" y="653" font-size="10.5" font-weight="bold" textLength="33.1" lengthAdjust="spacingAndGlyphs">120 ° E</text><text x="835.5" y="653" font-size="10.5" font-weight="bold" textLength="33.6" lengthAdjust="spacingAndGlyphs">150 ° E</text><text x="908.2" y="653" font-size="10.5" font-weight="bold" textLength="33.6" lengthAdjust="spacingAndGlyphs">180 ° E</text><text x="398.4" y="686" font-size="10" textLength="172.7" lengthAdjust="spacingAndGlyphs">GLOBAL AVERAGE (LAND)&#160;&#160;&#160;4.4 %</text><text x="262.7" y="719" font-size="13.2" textLength="444.6" lengthAdjust="spacingAndGlyphs">(File name = lmcf05mh.txt, MGRP = 9053, TYPE = 22, PCODE = 2, SN = 5)</text></g><g font-family="Liberation Sans, sans-serif" fill="#000"><text x="238.10" y="141.00" font-size="10.0" text-anchor="middle">3</text><text x="337.10" y="141.00" font-size="10.0" text-anchor="middle">3</text><text x="534.10" y="141.00" font-size="10.0" text-anchor="middle">2</text><text x="633.10" y="141.00" font-size="10.0" text-anchor="middle">3</text><text x="213.10" y="155.00" font-size="10.0" text-anchor="middle">3</text><text x="312.10" y="155.00" font-size="10.0" text-anchor="middle">6</text><text x="460.10" y="155.00" font-size="10.0" text-anchor="middle">4</text><text x="509.10" y="155.00" font-size="10.0" text-anchor="middle">3</text><text x="559.10" y="155.00" font-size="10.0" text-anchor="middle">6</text><text x="657.10" y="155.00" font-size="10.0" text-anchor="middle">2</text><text x="707.10" y="155.00" font-size="10.0" text-anchor="middle">3</text><text x="756.10" y="155.00" font-size="10.0" text-anchor="middle">4</text><text x="805.10" y="155.00" font-size="10.0" text-anchor="middle">5</text><text x="855.10" y="155.00" font-size="10.0" text-anchor="middle">3</text><text x="65.10" y="170.00" font-size="10.0" text-anchor="middle">2</text><text x="115.10" y="170.00" font-size="10.0" text-anchor="middle">4</text><text x="164.10" y="170.00" font-size="10.0" text-anchor="middle">3</text><text x="263.10" y="170.00" font-size="10.0" text-anchor="middle">2</text><text x="312.10" y="170.00" font-size="10.0" text-anchor="middle">7</text><text x="411.10" y="170.00" font-size="10.0" text-anchor="middle">2</text><text x="460.10" y="170.00" font-size="10.0" text-anchor="middle">3</text><text x="509.10" y="170.00" font-size="10.0" text-anchor="middle">6</text><text x="554.70" y="170.00" font-size="10.0" textLength="9.7" lengthAdjust="spacingAndGlyphs">10</text><text x="608.10" y="170.00" font-size="10.0" text-anchor="middle">3</text><text x="657.10" y="170.00" font-size="10.0" text-anchor="middle">6</text><text x="707.10" y="170.00" font-size="10.0" text-anchor="middle">5</text><text x="756.10" y="170.00" font-size="10.0" text-anchor="middle">5</text><text x="805.10" y="170.00" font-size="10.0" text-anchor="middle">4</text><text x="855.10" y="170.00" font-size="10.0" text-anchor="middle">4</text><text x="904.10" y="170.00" font-size="10.0" text-anchor="middle">3</text><text x="53.10" y="184.00" font-size="10.0" text-anchor="middle">4</text><text x="78.10" y="184.00" font-size="10.0" text-anchor="middle">4</text><text x="127.10" y="184.00" font-size="10.0" text-anchor="middle">3</text><text x="152.10" y="184.00" font-size="10.0" text-anchor="middle">3</text><text x="176.10" y="184.00" font-size="10.0" text-anchor="middle">3</text><text x="201.10" y="184.00" font-size="10.0" text-anchor="middle">4</text><text x="226.10" y="184.00" font-size="10.0" text-anchor="middle">5</text><text x="250.10" y="184.00" font-size="10.0" text-anchor="middle">5</text><text x="275.10" y="184.00" font-size="10.0" text-anchor="middle">4</text><text x="300.10" y="184.00" font-size="10.0" text-anchor="middle">4</text><text x="324.10" y="184.00" font-size="10.0" text-anchor="middle">4</text><text x="349.10" y="184.00" font-size="10.0" text-anchor="middle">6</text><text x="369.70" y="184.00" font-size="10.0" textLength="9.7" lengthAdjust="spacingAndGlyphs">19</text><text x="398.10" y="184.00" font-size="10.0" text-anchor="middle">9</text><text x="418.70" y="184.00" font-size="10.0" textLength="9.7" lengthAdjust="spacingAndGlyphs">12</text><text x="443.70" y="184.00" font-size="10.0" textLength="9.7" lengthAdjust="spacingAndGlyphs">13</text><text x="522.10" y="184.00" font-size="10.0" text-anchor="middle">7</text><text x="546.10" y="184.00" font-size="10.0" text-anchor="middle">6</text><text x="571.10" y="184.00" font-size="10.0" text-anchor="middle">3</text><text x="596.10" y="184.00" font-size="10.0" text-anchor="middle">3</text><text x="620.10" y="184.00" font-size="10.0" text-anchor="middle">5</text><text x="645.10" y="184.00" font-size="10.0" text-anchor="middle">5</text><text x="670.10" y="184.00" font-size="10.0" text-anchor="middle">8</text><text x="694.10" y="184.00" font-size="10.0" text-anchor="middle">7</text><text x="719.10" y="184.00" font-size="10.0" text-anchor="middle">9</text><text x="744.10" y="184.00" font-size="10.0" text-anchor="middle">8</text><text x="768.10" y="184.00" font-size="10.0" text-anchor="middle">7</text><text x="793.10" y="184.00" font-size="10.0" text-anchor="middle">5</text><text x="818.10" y="184.00" font-size="10.0" text-anchor="middle">6</text><text x="842.10" y="184.00" font-size="10.0" text-anchor="middle">5</text><text x="867.10" y="184.00" font-size="10.0" text-anchor="middle">2</text><text x="892.10" y="184.00" font-size="10.0" text-anchor="middle">3</text><text x="916.10" y="184.00" font-size="10.0" text-anchor="middle">3</text><text x="53.10" y="198.00" font-size="10.0" text-anchor="middle">3</text><text x="78.10" y="198.00" font-size="10.0" text-anchor="middle">5</text><text x="102.10" y="198.00" font-size="10.0" text-anchor="middle">3</text><text x="127.10" y="198.00" font-size="10.0" text-anchor="middle">4</text><text x="152.10" y="198.00" font-size="10.0" text-anchor="middle">5</text><text x="176.10" y="198.00" font-size="10.0" text-anchor="middle">5</text><text x="201.10" y="198.00" font-size="10.0" text-anchor="middle">3</text><text x="226.10" y="198.00" font-size="10.0" text-anchor="middle">2</text><text x="250.10" y="198.00" font-size="10.0" text-anchor="middle">2</text><text x="275.10" y="198.00" font-size="10.0" text-anchor="middle">4</text><text x="300.10" y="198.00" font-size="10.0" text-anchor="middle">4</text><text x="324.10" y="198.00" font-size="10.0" text-anchor="middle">5</text><text x="349.10" y="198.00" font-size="10.0" text-anchor="middle">9</text><text x="374.10" y="198.00" font-size="10.0" text-anchor="middle">6</text><text x="423.10" y="198.00" font-size="10.0" text-anchor="middle">8</text><text x="443.70" y="198.00" font-size="10.0" textLength="9.7" lengthAdjust="spacingAndGlyphs">11</text><text x="472.10" y="198.00" font-size="10.0" text-anchor="middle">6</text><text x="497.10" y="198.00" font-size="10.0" text-anchor="middle">8</text><text x="522.10" y="198.00" font-size="10.0" text-anchor="middle">6</text><text x="546.10" y="198.00" font-size="10.0" text-anchor="middle">4</text><text x="571.10" y="198.00" font-size="10.0" text-anchor="middle">3</text><text x="596.10" y="198.00" font-size="10.0" text-anchor="middle">3</text><text x="620.10" y="198.00" font-size="10.0" text-anchor="middle">4</text><text x="645.10" y="198.00" font-size="10.0" text-anchor="middle">5</text><text x="670.10" y="198.00" font-size="10.0" text-anchor="middle">7</text><text x="694.10" y="198.00" font-size="10.0" text-anchor="middle">8</text><text x="719.10" y="198.00" font-size="10.0" text-anchor="middle">9</text><text x="744.10" y="198.00" font-size="10.0" text-anchor="middle">5</text><text x="768.10" y="198.00" font-size="10.0" text-anchor="middle">5</text><text x="793.10" y="198.00" font-size="10.0" text-anchor="middle">5</text><text x="818.10" y="198.00" font-size="10.0" text-anchor="middle">5</text><text x="842.10" y="198.00" font-size="10.0" text-anchor="middle">4</text><text x="867.10" y="198.00" font-size="10.0" text-anchor="middle">5</text><text x="892.10" y="198.00" font-size="10.0" text-anchor="middle">3</text><text x="916.10" y="198.00" font-size="10.0" text-anchor="middle">5</text><text x="53.10" y="212.00" font-size="10.0" text-anchor="middle">4</text><text x="78.10" y="212.00" font-size="10.0" text-anchor="middle">6</text><text x="102.10" y="212.00" font-size="10.0" text-anchor="middle">8</text><text x="152.10" y="212.00" font-size="10.0" text-anchor="middle">4</text><text x="176.10" y="212.00" font-size="10.0" text-anchor="middle">5</text><text x="201.10" y="212.00" font-size="10.0" text-anchor="middle">3</text><text x="226.10" y="212.00" font-size="10.0" text-anchor="middle">3</text><text x="250.10" y="212.00" font-size="10.0" text-anchor="middle">3</text><text x="300.10" y="212.00" font-size="10.0" text-anchor="middle">3</text><text x="324.10" y="212.00" font-size="10.0" text-anchor="middle">3</text><text x="472.10" y="212.00" font-size="10.0" text-anchor="middle">3</text><text x="497.10" y="212.00" font-size="10.0" text-anchor="middle">5</text><text x="522.10" y="212.00" font-size="10.0" text-anchor="middle">3</text><text x="546.10" y="212.00" font-size="10.0" text-anchor="middle">5</text><text x="571.10" y="212.00" font-size="10.0" text-anchor="middle">3</text><text x="596.10" y="212.00" font-size="10.0" text-anchor="middle">4</text><text x="620.10" y="212.00" font-size="10.0" text-anchor="middle">3</text><text x="645.10" y="212.00" font-size="10.0" text-anchor="middle">3</text><text x="670.10" y="212.00" font-size="10.0" text-anchor="middle">5</text><text x="694.10" y="212.00" font-size="10.0" text-anchor="middle">6</text><text x="719.10" y="212.00" font-size="10.0" text-anchor="middle">6</text><text x="744.10" y="212.00" font-size="10.0" text-anchor="middle">6</text><text x="768.10" y="212.00" font-size="10.0" text-anchor="middle">9</text><text x="793.10" y="212.00" font-size="10.0" text-anchor="middle">5</text><text x="818.10" y="212.00" font-size="10.0" text-anchor="middle">9</text><text x="842.10" y="212.00" font-size="10.0" text-anchor="middle">6</text><text x="867.10" y="212.00" font-size="10.0" text-anchor="middle">2</text><text x="892.10" y="212.00" font-size="10.0" text-anchor="middle">2</text><text x="53.10" y="226.00" font-size="10.0" text-anchor="middle">7</text><text x="152.10" y="226.00" font-size="10.0" text-anchor="middle">7</text><text x="176.10" y="226.00" font-size="10.0" text-anchor="middle">3</text><text x="201.10" y="226.00" font-size="10.0" text-anchor="middle">2</text><text x="226.10" y="226.00" font-size="10.0" text-anchor="middle">2</text><text x="250.10" y="226.00" font-size="10.0" text-anchor="middle">3</text><text x="275.10" y="226.00" font-size="10.0" text-anchor="middle">4</text><text x="300.10" y="226.00" font-size="10.0" text-anchor="middle">2</text><text x="324.10" y="226.00" font-size="10.0" text-anchor="middle">3</text><text x="349.10" y="226.00" font-size="10.0" text-anchor="middle">3</text><text x="448.10" y="226.00" font-size="10.0" text-anchor="middle">2</text><text x="472.10" y="226.00" font-size="10.0" text-anchor="middle">3</text><text x="497.10" y="226.00" font-size="10.0" text-anchor="middle">2</text><text x="522.10" y="226.00" font-size="10.0" text-anchor="middle">3</text><text x="546.10" y="226.00" font-size="10.0" text-anchor="middle">3</text><text x="571.10" y="226.00" font-size="10.0" text-anchor="middle">3</text><text x="596.10" y="226.00" font-size="10.0" text-anchor="middle">1</text><text x="620.10" y="226.00" font-size="10.0" text-anchor="middle">2</text><text x="645.10" y="226.00" font-size="10.0" text-anchor="middle">3</text><text x="670.10" y="226.00" font-size="10.0" text-anchor="middle">3</text><text x="694.10" y="226.00" font-size="10.0" text-anchor="middle">4</text><text x="719.10" y="226.00" font-size="10.0" text-anchor="middle">4</text><text x="744.10" y="226.00" font-size="10.0" text-anchor="middle">5</text><text x="768.10" y="226.00" font-size="10.0" text-anchor="middle">7</text><text x="793.10" y="226.00" font-size="10.0" text-anchor="middle">6</text><text x="818.10" y="226.00" font-size="10.0" text-anchor="middle">7</text><text x="842.10" y="226.00" font-size="10.0" text-anchor="middle">4</text><text x="867.10" y="226.00" font-size="10.0" text-anchor="middle">3</text><text x="182.10" y="241.00" font-size="10.0" text-anchor="middle">3</text><text x="195.10" y="241.00" font-size="10.0" text-anchor="middle">3</text><text x="207.10" y="241.00" font-size="10.0" text-anchor="middle">3</text><text x="219.10" y="241.00" font-size="10.0" text-anchor="middle">3</text><text x="232.10" y="241.00" font-size="10.0" text-anchor="middle">2</text><text x="244.10" y="241.00" font-size="10.0" text-anchor="middle">2</text><text x="256.10" y="241.00" font-size="10.0" text-anchor="middle">2</text><text x="269.10" y="241.00" font-size="10.0" text-anchor="middle">5</text><text x="281.10" y="241.00" font-size="10.0" text-anchor="middle">3</text><text x="293.10" y="241.00" font-size="10.0" text-anchor="middle">2</text><text x="306.10" y="241.00" font-size="10.0" text-anchor="middle">1</text><text x="318.10" y="241.00" font-size="10.0" text-anchor="middle">2</text><text x="330.10" y="241.00" font-size="10.0" text-anchor="middle">2</text><text x="343.10" y="241.00" font-size="10.0" text-anchor="middle">2</text><text x="355.10" y="241.00" font-size="10.0" text-anchor="middle">2</text><text x="466.10" y="241.00" font-size="10.0" text-anchor="middle">5</text><text x="478.10" y="241.00" font-size="10.0" text-anchor="middle">3</text><text x="491.10" y="241.00" font-size="10.0" text-anchor="middle">2</text><text x="503.10" y="241.00" font-size="10.0" text-anchor="middle">2</text><text x="515.10" y="241.00" font-size="10.0" text-anchor="middle">4</text><text x="528.10" y="241.00" font-size="10.0" text-anchor="middle">4</text><text x="540.10" y="241.00" font-size="10.0" text-anchor="middle">3</text><text x="552.10" y="241.00" font-size="10.0" text-anchor="middle">3</text><text x="565.10" y="241.00" font-size="10.0" text-anchor="middle">2</text><text x="577.10" y="241.00" font-size="10.0" text-anchor="middle">2</text><text x="589.10" y="241.00" font-size="10.0" text-anchor="middle">3</text><text x="602.10" y="241.00" font-size="10.0" text-anchor="middle">3</text><text x="614.10" y="241.00" font-size="10.0" text-anchor="middle">3</text><text x="626.10" y="241.00" font-size="10.0" text-anchor="middle">2</text><text x="639.10" y="241.00" font-size="10.0" text-anchor="middle">3</text><text x="651.10" y="241.00" font-size="10.0" text-anchor="middle">3</text><text x="663.10" y="241.00" font-size="10.0" text-anchor="middle">3</text><text x="676.10" y="241.00" font-size="10.0" text-anchor="middle">3</text><text x="688.10" y="241.00" font-size="10.0" text-anchor="middle">2</text><text x="700.10" y="241.00" font-size="10.0" text-anchor="middle">3</text><text x="713.10" y="241.00" font-size="10.0" text-anchor="middle">3</text><text x="725.10" y="241.00" font-size="10.0" text-anchor="middle">3</text><text x="737.10" y="241.00" font-size="10.0" text-anchor="middle">5</text><text x="750.10" y="241.00" font-size="10.0" text-anchor="middle">5</text><text x="762.10" y="241.00" font-size="10.0" text-anchor="middle">6</text><text x="774.10" y="241.00" font-size="10.0" text-anchor="middle">5</text><text x="787.10" y="241.00" font-size="10.0" text-anchor="middle">5</text><text x="799.10" y="241.00" font-size="10.0" text-anchor="middle">5</text><text x="811.10" y="241.00" font-size="10.0" text-anchor="middle">5</text><text x="824.10" y="241.00" font-size="10.0" text-anchor="middle">8</text><text x="836.10" y="241.00" font-size="10.0" text-anchor="middle">3</text><text x="848.10" y="241.00" font-size="10.0" text-anchor="middle">7</text><text x="861.10" y="241.00" font-size="10.0" text-anchor="middle">5</text><text x="182.10" y="255.00" font-size="10.0" text-anchor="middle">4</text><text x="195.10" y="255.00" font-size="10.0" text-anchor="middle">3</text><text x="207.10" y="255.00" font-size="10.0" text-anchor="middle">2</text><text x="219.10" y="255.00" font-size="10.0" text-anchor="middle">3</text><text x="232.10" y="255.00" font-size="10.0" text-anchor="middle">2</text><text x="244.10" y="255.00" font-size="10.0" text-anchor="middle">3</text><text x="256.10" y="255.00" font-size="10.0" text-anchor="middle">2</text><text x="269.10" y="255.00" font-size="10.0" text-anchor="middle">2</text><text x="281.10" y="255.00" font-size="10.0" text-anchor="middle">2</text><text x="293.10" y="255.00" font-size="10.0" text-anchor="middle">2</text><text x="306.10" y="255.00" font-size="10.0" text-anchor="middle">3</text><text x="318.10" y="255.00" font-size="10.0" text-anchor="middle">3</text><text x="330.10" y="255.00" font-size="10.0" text-anchor="middle">2</text><text x="466.10" y="255.00" font-size="10.0" text-anchor="middle">7</text><text x="478.10" y="255.00" font-size="10.0" text-anchor="middle">5</text><text x="491.10" y="255.00" font-size="10.0" text-anchor="middle">4</text><text x="503.10" y="255.00" font-size="10.0" text-anchor="middle">3</text><text x="515.10" y="255.00" font-size="10.0" text-anchor="middle">4</text><text x="528.10" y="255.00" font-size="10.0" text-anchor="middle">6</text><text x="540.10" y="255.00" font-size="10.0" text-anchor="middle">5</text><text x="552.10" y="255.00" font-size="10.0" text-anchor="middle">5</text><text x="565.10" y="255.00" font-size="10.0" text-anchor="middle">5</text><text x="577.10" y="255.00" font-size="10.0" text-anchor="middle">5</text><text x="589.10" y="255.00" font-size="10.0" text-anchor="middle">5</text><text x="602.10" y="255.00" font-size="10.0" text-anchor="middle">4</text><text x="614.10" y="255.00" font-size="10.0" text-anchor="middle">2</text><text x="626.10" y="255.00" font-size="10.0" text-anchor="middle">2</text><text x="639.10" y="255.00" font-size="10.0" text-anchor="middle">2</text><text x="651.10" y="255.00" font-size="10.0" text-anchor="middle">2</text><text x="663.10" y="255.00" font-size="10.0" text-anchor="middle">3</text><text x="676.10" y="255.00" font-size="10.0" text-anchor="middle">5</text><text x="688.10" y="255.00" font-size="10.0" text-anchor="middle">4</text><text x="700.10" y="255.00" font-size="10.0" text-anchor="middle">2</text><text x="713.10" y="255.00" font-size="10.0" text-anchor="middle">2</text><text x="725.10" y="255.00" font-size="10.0" text-anchor="middle">2</text><text x="737.10" y="255.00" font-size="10.0" text-anchor="middle">5</text><text x="750.10" y="255.00" font-size="10.0" text-anchor="middle">5</text><text x="762.10" y="255.00" font-size="10.0" text-anchor="middle">4</text><text x="774.10" y="255.00" font-size="10.0" text-anchor="middle">3</text><text x="787.10" y="255.00" font-size="10.0" text-anchor="middle">5</text><text x="799.10" y="255.00" font-size="10.0" text-anchor="middle">6</text><text x="811.10" y="255.00" font-size="10.0" text-anchor="middle">7</text><text x="824.10" y="255.00" font-size="10.0" text-anchor="middle">8</text><text x="836.10" y="255.00" font-size="10.0" text-anchor="middle">2</text><text x="848.10" y="255.00" font-size="10.0" text-anchor="middle">3</text><text x="182.10" y="269.00" font-size="10.0" text-anchor="middle">3</text><text x="195.10" y="269.00" font-size="10.0" text-anchor="middle">1</text><text x="207.10" y="269.00" font-size="10.0" text-anchor="middle">2</text><text x="219.10" y="269.00" font-size="10.0" text-anchor="middle">2</text><text x="232.10" y="269.00" font-size="10.0" text-anchor="middle">2</text><text x="244.10" y="269.00" font-size="10.0" text-anchor="middle">1</text><text x="256.10" y="269.00" font-size="10.0" text-anchor="middle">3</text><text x="269.10" y="269.00" font-size="10.0" text-anchor="middle">2</text><text x="281.10" y="269.00" font-size="10.0" text-anchor="middle">2</text><text x="293.10" y="269.00" font-size="10.0" text-anchor="middle">2</text><text x="404.10" y="269.00" font-size="10.0" text-anchor="middle">0</text><text x="417.10" y="269.00" font-size="10.0" text-anchor="middle">1</text><text x="466.10" y="269.00" font-size="10.0" text-anchor="middle">2</text><text x="478.10" y="269.00" font-size="10.0" text-anchor="middle">4</text><text x="491.10" y="269.00" font-size="10.0" text-anchor="middle">1</text><text x="503.10" y="269.00" font-size="10.0" text-anchor="middle">1</text><text x="515.10" y="269.00" font-size="10.0" text-anchor="middle">3</text><text x="528.10" y="269.00" font-size="10.0" text-anchor="middle">6</text><text x="540.10" y="269.00" font-size="10.0" text-anchor="middle">4</text><text x="552.10" y="269.00" font-size="10.0" text-anchor="middle">4</text><text x="565.10" y="269.00" font-size="10.0" text-anchor="middle">3</text><text x="577.10" y="269.00" font-size="10.0" text-anchor="middle">3</text><text x="589.10" y="269.00" font-size="10.0" text-anchor="middle">4</text><text x="602.10" y="269.00" font-size="10.0" text-anchor="middle">8</text><text x="614.10" y="269.00" font-size="10.0" text-anchor="middle">8</text><text x="626.10" y="269.00" font-size="10.0" text-anchor="middle">2</text><text x="639.10" y="269.00" font-size="10.0" text-anchor="middle">1</text><text x="651.10" y="269.00" font-size="10.0" text-anchor="middle">3</text><text x="663.10" y="269.00" font-size="10.0" text-anchor="middle">4</text><text x="676.10" y="269.00" font-size="10.0" text-anchor="middle">4</text><text x="688.10" y="269.00" font-size="10.0" text-anchor="middle">6</text><text x="700.10" y="269.00" font-size="10.0" text-anchor="middle">6</text><text x="713.10" y="269.00" font-size="10.0" text-anchor="middle">4</text><text x="725.10" y="269.00" font-size="10.0" text-anchor="middle">5</text><text x="737.10" y="269.00" font-size="10.0" text-anchor="middle">5</text><text x="750.10" y="269.00" font-size="10.0" text-anchor="middle">4</text><text x="762.10" y="269.00" font-size="10.0" text-anchor="middle">3</text><text x="774.10" y="269.00" font-size="10.0" text-anchor="middle">3</text><text x="787.10" y="269.00" font-size="10.0" text-anchor="middle">3</text><text x="794.70" y="269.00" font-size="10.0" textLength="9.7" lengthAdjust="spacingAndGlyphs">15</text><text x="811.10" y="269.00" font-size="10.0" text-anchor="middle">8</text><text x="824.10" y="269.00" font-size="10.0" text-anchor="middle">6</text><text x="836.10" y="269.00" font-size="10.0" text-anchor="middle">5</text><text x="195.10" y="283.00" font-size="10.0" text-anchor="middle">1</text><text x="207.10" y="283.00" font-size="10.0" text-anchor="middle">1</text><text x="219.10" y="283.00" font-size="10.0" text-anchor="middle">2</text><text x="232.10" y="283.00" font-size="10.0" text-anchor="middle">1</text><text x="244.10" y="283.00" font-size="10.0" text-anchor="middle">1</text><text x="256.10" y="283.00" font-size="10.0" text-anchor="middle">3</text><text x="269.10" y="283.00" font-size="10.0" text-anchor="middle">2</text><text x="281.10" y="283.00" font-size="10.0" text-anchor="middle">1</text><text x="330.10" y="283.00" font-size="10.0" text-anchor="middle">3</text><text x="441.10" y="283.00" font-size="10.0" text-anchor="middle">1</text><text x="466.10" y="283.00" font-size="10.0" text-anchor="middle">0</text><text x="478.10" y="283.00" font-size="10.0" text-anchor="middle">1</text><text x="491.10" y="283.00" font-size="10.0" text-anchor="middle">1</text><text x="503.10" y="283.00" font-size="10.0" text-anchor="middle">1</text><text x="515.10" y="283.00" font-size="10.0" text-anchor="middle">3</text><text x="528.10" y="283.00" font-size="10.0" text-anchor="middle">5</text><text x="540.10" y="283.00" font-size="10.0" text-anchor="middle">3</text><text x="552.10" y="283.00" font-size="10.0" text-anchor="middle">4</text><text x="565.10" y="283.00" font-size="10.0" text-anchor="middle">1</text><text x="577.10" y="283.00" font-size="10.0" text-anchor="middle">2</text><text x="589.10" y="283.00" font-size="10.0" text-anchor="middle">6</text><text x="602.10" y="283.00" font-size="10.0" text-anchor="middle">8</text><text x="614.10" y="283.00" font-size="10.0" text-anchor="middle">6</text><text x="626.10" y="283.00" font-size="10.0" text-anchor="middle">2</text><text x="639.10" y="283.00" font-size="10.0" text-anchor="middle">4</text><text x="651.10" y="283.00" font-size="10.0" text-anchor="middle">3</text><text x="663.10" y="283.00" font-size="10.0" text-anchor="middle">7</text><text x="676.10" y="283.00" font-size="10.0" text-anchor="middle">4</text><text x="688.10" y="283.00" font-size="10.0" text-anchor="middle">2</text><text x="700.10" y="283.00" font-size="10.0" text-anchor="middle">0</text><text x="713.10" y="283.00" font-size="10.0" text-anchor="middle">2</text><text x="725.10" y="283.00" font-size="10.0" text-anchor="middle">3</text><text x="737.10" y="283.00" font-size="10.0" text-anchor="middle">3</text><text x="750.10" y="283.00" font-size="10.0" text-anchor="middle">2</text><text x="762.10" y="283.00" font-size="10.0" text-anchor="middle">3</text><text x="774.10" y="283.00" font-size="10.0" text-anchor="middle">2</text><text x="787.10" y="283.00" font-size="10.0" text-anchor="middle">2</text><text x="794.70" y="283.00" font-size="10.0" textLength="9.7" lengthAdjust="spacingAndGlyphs">15</text><text x="811.10" y="283.00" font-size="10.0" text-anchor="middle">6</text><text x="824.10" y="283.00" font-size="10.0" text-anchor="middle">5</text><text x="47.10" y="298.00" font-size="10.0" text-anchor="middle">4</text><text x="195.10" y="298.00" font-size="10.0" text-anchor="middle">2</text><text x="207.10" y="298.00" font-size="10.0" text-anchor="middle">2</text><text x="219.10" y="298.00" font-size="10.0" text-anchor="middle">3</text><text x="232.10" y="298.00" font-size="10.0" text-anchor="middle">6</text><text x="244.10" y="298.00" font-size="10.0" text-anchor="middle">1</text><text x="256.10" y="298.00" font-size="10.0" text-anchor="middle">2</text><text x="281.10" y="298.00" font-size="10.0" text-anchor="middle">1</text><text x="293.10" y="298.00" font-size="10.0" text-anchor="middle">3</text><text x="441.10" y="298.00" font-size="10.0" text-anchor="middle">1</text><text x="454.10" y="298.00" font-size="10.0" text-anchor="middle">1</text><text x="466.10" y="298.00" font-size="10.0" text-anchor="middle">0</text><text x="478.10" y="298.00" font-size="10.0" text-anchor="middle">1</text><text x="491.10" y="298.00" font-size="10.0" text-anchor="middle">0</text><text x="503.10" y="298.00" font-size="10.0" text-anchor="middle">0</text><text x="515.10" y="298.00" font-size="10.0" text-anchor="middle">1</text><text x="523.70" y="298.00" font-size="10.0" textLength="9.7" lengthAdjust="spacingAndGlyphs">11</text><text x="540.10" y="298.00" font-size="10.0" text-anchor="middle">4</text><text x="552.10" y="298.00" font-size="10.0" text-anchor="middle">3</text><text x="565.10" y="298.00" font-size="10.0" text-anchor="middle">0</text><text x="577.10" y="298.00" font-size="10.0" text-anchor="middle">3</text><text x="589.10" y="298.00" font-size="10.0" text-anchor="middle">2</text><text x="602.10" y="298.00" font-size="10.0" text-anchor="middle">7</text><text x="614.10" y="298.00" font-size="10.0" text-anchor="middle">3</text><text x="626.10" y="298.00" font-size="10.0" text-anchor="middle">1</text><text x="639.10" y="298.00" font-size="10.0" text-anchor="middle">1</text><text x="651.10" y="298.00" font-size="10.0" text-anchor="middle">3</text><text x="663.10" y="298.00" font-size="10.0" text-anchor="middle">1</text><text x="676.10" y="298.00" font-size="10.0" text-anchor="middle">2</text><text x="688.10" y="298.00" font-size="10.0" text-anchor="middle">2</text><text x="700.10" y="298.00" font-size="10.0" text-anchor="middle">5</text><text x="713.10" y="298.00" font-size="10.0" text-anchor="middle">6</text><text x="725.10" y="298.00" font-size="10.0" text-anchor="middle">3</text><text x="737.10" y="298.00" font-size="10.0" text-anchor="middle">1</text><text x="750.10" y="298.00" font-size="10.0" text-anchor="middle">2</text><text x="762.10" y="298.00" font-size="10.0" text-anchor="middle">2</text><text x="774.10" y="298.00" font-size="10.0" text-anchor="middle">1</text><text x="787.10" y="298.00" font-size="10.0" text-anchor="middle">3</text><text x="799.10" y="298.00" font-size="10.0" text-anchor="middle">3</text><text x="811.10" y="298.00" font-size="10.0" text-anchor="middle">2</text><text x="836.10" y="298.00" font-size="10.0" text-anchor="middle">2</text><text x="96.10" y="312.00" font-size="10.0" text-anchor="middle">1</text><text x="207.10" y="312.00" font-size="10.0" text-anchor="middle">2</text><text x="219.10" y="312.00" font-size="10.0" text-anchor="middle">4</text><text x="232.10" y="312.00" font-size="10.0" text-anchor="middle">4</text><text x="239.70" y="312.00" font-size="10.0" textLength="9.7" lengthAdjust="spacingAndGlyphs">10</text><text x="269.10" y="312.00" font-size="10.0" text-anchor="middle">6</text><text x="281.10" y="312.00" font-size="10.0" text-anchor="middle">2</text><text x="293.10" y="312.00" font-size="10.0" text-anchor="middle">5</text><text x="306.10" y="312.00" font-size="10.0" text-anchor="middle">3</text><text x="441.10" y="312.00" font-size="10.0" text-anchor="middle">0</text><text x="454.10" y="312.00" font-size="10.0" text-anchor="middle">0</text><text x="491.10" y="312.00" font-size="10.0" text-anchor="middle">0</text><text x="503.10" y="312.00" font-size="10.0" text-anchor="middle">1</text><text x="540.10" y="312.00" font-size="10.0" text-anchor="middle">1</text><text x="565.10" y="312.00" font-size="10.0" text-anchor="middle">0</text><text x="577.10" y="312.00" font-size="10.0" text-anchor="middle">1</text><text x="589.10" y="312.00" font-size="10.0" text-anchor="middle">5</text><text x="602.10" y="312.00" font-size="10.0" text-anchor="middle">3</text><text x="614.10" y="312.00" font-size="10.0" text-anchor="middle">0</text><text x="626.10" y="312.00" font-size="10.0" text-anchor="middle">0</text><text x="651.10" y="312.00" font-size="10.0" text-anchor="middle">1</text><text x="663.10" y="312.00" font-size="10.0" text-anchor="middle">1</text><text x="676.10" y="312.00" font-size="10.0" text-anchor="middle">1</text><text x="688.10" y="312.00" font-size="10.0" text-anchor="middle">2</text><text x="700.10" y="312.00" font-size="10.0" text-anchor="middle">8</text><text x="708.70" y="312.00" font-size="10.0" textLength="9.7" lengthAdjust="spacingAndGlyphs">15</text><text x="725.10" y="312.00" font-size="10.0" text-anchor="middle">2</text><text x="737.10" y="312.00" font-size="10.0" text-anchor="middle">1</text><text x="750.10" y="312.00" font-size="10.0" text-anchor="middle">1</text><text x="762.10" y="312.00" font-size="10.0" text-anchor="middle">1</text><text x="774.10" y="312.00" font-size="10.0" text-anchor="middle">4</text><text x="787.10" y="312.00" font-size="10.0" text-anchor="middle">6</text><text x="799.10" y="312.00" font-size="10.0" text-anchor="middle">1</text><text x="861.10" y="312.00" font-size="10.0" text-anchor="middle">1</text><text x="96.10" y="326.00" font-size="10.0" text-anchor="middle">1</text><text x="202.70" y="326.00" font-size="10.0" textLength="9.7" lengthAdjust="spacingAndGlyphs">12</text><text x="232.10" y="326.00" font-size="10.0" text-anchor="middle">8</text><text x="239.70" y="326.00" font-size="10.0" textLength="9.7" lengthAdjust="spacingAndGlyphs">11</text><text x="251.70" y="326.00" font-size="10.0" textLength="9.7" lengthAdjust="spacingAndGlyphs">10</text><text x="269.10" y="326.00" font-size="10.0" text-anchor="middle">4</text><text x="281.10" y="326.00" font-size="10.0" text-anchor="middle">8</text><text x="293.10" y="326.00" font-size="10.0" text-anchor="middle">2</text><text x="306.10" y="326.00" font-size="10.0" text-anchor="middle">4</text><text x="318.10" y="326.00" font-size="10.0" text-anchor="middle">5</text><text x="330.10" y="326.00" font-size="10.0" text-anchor="middle">1</text><text x="429.10" y="326.00" font-size="10.0" text-anchor="middle">1</text><text x="441.10" y="326.00" font-size="10.0" text-anchor="middle">0</text><text x="454.10" y="326.00" font-size="10.0" text-anchor="middle">0</text><text x="466.10" y="326.00" font-size="10.0" text-anchor="middle">0</text><text x="478.10" y="326.00" font-size="10.0" text-anchor="middle">0</text><text x="491.10" y="326.00" font-size="10.0" text-anchor="middle">0</text><text x="503.10" y="326.00" font-size="10.0" text-anchor="middle">0</text><text x="515.10" y="326.00" font-size="10.0" text-anchor="middle">0</text><text x="528.10" y="326.00" font-size="10.0" text-anchor="middle">0</text><text x="565.10" y="326.00" font-size="10.0" text-anchor="middle">1</text><text x="577.10" y="326.00" font-size="10.0" text-anchor="middle">1</text><text x="589.10" y="326.00" font-size="10.0" text-anchor="middle">2</text><text x="602.10" y="326.00" font-size="10.0" text-anchor="middle">0</text><text x="614.10" y="326.00" font-size="10.0" text-anchor="middle">0</text><text x="663.10" y="326.00" font-size="10.0" text-anchor="middle">2</text><text x="676.10" y="326.00" font-size="10.0" text-anchor="middle">4</text><text x="688.10" y="326.00" font-size="10.0" text-anchor="middle">3</text><text x="713.10" y="326.00" font-size="10.0" text-anchor="middle">9</text><text x="725.10" y="326.00" font-size="10.0" text-anchor="middle">2</text><text x="737.10" y="326.00" font-size="10.0" text-anchor="middle">2</text><text x="750.10" y="326.00" font-size="10.0" text-anchor="middle">1</text><text x="762.10" y="326.00" font-size="10.0" text-anchor="middle">0</text><text x="769.70" y="326.00" font-size="10.0" textLength="9.7" lengthAdjust="spacingAndGlyphs">16</text><text x="787.10" y="326.00" font-size="10.0" text-anchor="middle">5</text><text x="898.10" y="326.00" font-size="10.0" text-anchor="middle">1</text><text x="251.70" y="340.00" font-size="10.0" textLength="9.7" lengthAdjust="spacingAndGlyphs">17</text><text x="269.10" y="340.00" font-size="10.0" text-anchor="middle">7</text><text x="281.10" y="340.00" font-size="10.0" text-anchor="middle">6</text><text x="288.70" y="340.00" font-size="10.0" textLength="9.7" lengthAdjust="spacingAndGlyphs">22</text><text x="301.70" y="340.00" font-size="10.0" textLength="9.7" lengthAdjust="spacingAndGlyphs">14</text><text x="313.70" y="340.00" font-size="10.0" textLength="9.7" lengthAdjust="spacingAndGlyphs">18</text><text x="330.10" y="340.00" font-size="10.0" text-anchor="middle">3</text><text x="343.10" y="340.00" font-size="10.0" text-anchor="middle">1</text><text x="441.10" y="340.00" font-size="10.0" text-anchor="middle">0</text><text x="454.10" y="340.00" font-size="10.0" text-anchor="middle">1</text><text x="466.10" y="340.00" font-size="10.0" text-anchor="middle">1</text><text x="478.10" y="340.00" font-size="10.0" text-anchor="middle">1</text><text x="491.10" y="340.00" font-size="10.0" text-anchor="middle">1</text><text x="503.10" y="340.00" font-size="10.0" text-anchor="middle">1</text><text x="515.10" y="340.00" font-size="10.0" text-anchor="middle">1</text><text x="528.10" y="340.00" font-size="10.0" text-anchor="middle">1</text><text x="540.10" y="340.00" font-size="10.0" text-anchor="middle">2</text><text x="552.10" y="340.00" font-size="10.0" text-anchor="middle">1</text><text x="565.10" y="340.00" font-size="10.0" text-anchor="middle">0</text><text x="577.10" y="340.00" font-size="10.0" text-anchor="middle">3</text><text x="589.10" y="340.00" font-size="10.0" text-anchor="middle">2</text><text x="602.10" y="340.00" font-size="10.0" text-anchor="middle">2</text><text x="663.10" y="340.00" font-size="10.0" text-anchor="middle">6</text><text x="676.10" y="340.00" font-size="10.0" text-anchor="middle">3</text><text x="688.10" y="340.00" font-size="10.0" text-anchor="middle">1</text><text x="708.70" y="340.00" font-size="10.0" textLength="9.7" lengthAdjust="spacingAndGlyphs">11</text><text x="725.10" y="340.00" font-size="10.0" text-anchor="middle">6</text><text x="737.10" y="340.00" font-size="10.0" text-anchor="middle">4</text><text x="750.10" y="340.00" font-size="10.0" text-anchor="middle">2</text><text x="787.10" y="340.00" font-size="10.0" text-anchor="middle">3</text><text x="799.10" y="340.00" font-size="10.0" text-anchor="middle">2</text><text x="836.10" y="340.00" font-size="10.0" text-anchor="middle">2</text><text x="276.70" y="355.00" font-size="10.0" textLength="9.7" lengthAdjust="spacingAndGlyphs">19</text><text x="288.70" y="355.00" font-size="10.0" textLength="9.7" lengthAdjust="spacingAndGlyphs">10</text><text x="301.70" y="355.00" font-size="10.0" textLength="9.7" lengthAdjust="spacingAndGlyphs">30</text><text x="313.70" y="355.00" font-size="10.0" textLength="9.7" lengthAdjust="spacingAndGlyphs">29</text><text x="325.70" y="355.00" font-size="10.0" textLength="9.7" lengthAdjust="spacingAndGlyphs">17</text><text x="343.10" y="355.00" font-size="10.0" text-anchor="middle">1</text><text x="355.10" y="355.00" font-size="10.0" text-anchor="middle">1</text><text x="454.10" y="355.00" font-size="10.0" text-anchor="middle">5</text><text x="466.10" y="355.00" font-size="10.0" text-anchor="middle">2</text><text x="478.10" y="355.00" font-size="10.0" text-anchor="middle">3</text><text x="491.10" y="355.00" font-size="10.0" text-anchor="middle">1</text><text x="503.10" y="355.00" font-size="10.0" text-anchor="middle">2</text><text x="515.10" y="355.00" font-size="10.0" text-anchor="middle">2</text><text x="528.10" y="355.00" font-size="10.0" text-anchor="middle">2</text><text x="540.10" y="355.00" font-size="10.0" text-anchor="middle">2</text><text x="552.10" y="355.00" font-size="10.0" text-anchor="middle">3</text><text x="565.10" y="355.00" font-size="10.0" text-anchor="middle">1</text><text x="577.10" y="355.00" font-size="10.0" text-anchor="middle">3</text><text x="589.10" y="355.00" font-size="10.0" text-anchor="middle">2</text><text x="602.10" y="355.00" font-size="10.0" text-anchor="middle">1</text><text x="658.70" y="355.00" font-size="10.0" textLength="9.7" lengthAdjust="spacingAndGlyphs">11</text><text x="671.70" y="355.00" font-size="10.0" textLength="9.7" lengthAdjust="spacingAndGlyphs">10</text><text x="688.10" y="355.00" font-size="10.0" text-anchor="middle">7</text><text x="708.70" y="355.00" font-size="10.0" textLength="9.7" lengthAdjust="spacingAndGlyphs">16</text><text x="725.10" y="355.00" font-size="10.0" text-anchor="middle">6</text><text x="737.10" y="355.00" font-size="10.0" text-anchor="middle">3</text><text x="750.10" y="355.00" font-size="10.0" text-anchor="middle">4</text><text x="774.10" y="355.00" font-size="10.0" text-anchor="middle">2</text><text x="787.10" y="355.00" font-size="10.0" text-anchor="middle">4</text><text x="799.10" y="355.00" font-size="10.0" text-anchor="middle">4</text><text x="811.10" y="355.00" font-size="10.0" text-anchor="middle">3</text><text x="824.10" y="355.00" font-size="10.0" text-anchor="middle">2</text><text x="861.10" y="355.00" font-size="10.0" text-anchor="middle">4</text><text x="873.10" y="355.00" font-size="10.0" text-anchor="middle">3</text><text x="898.10" y="355.00" font-size="10.0" text-anchor="middle">8</text><text x="905.70" y="355.00" font-size="10.0" textLength="9.7" lengthAdjust="spacingAndGlyphs">16</text><text x="96.10" y="369.00" font-size="10.0" text-anchor="middle">3</text><text x="288.70" y="369.00" font-size="10.0" textLength="9.7" lengthAdjust="spacingAndGlyphs">10</text><text x="306.10" y="369.00" font-size="10.0" text-anchor="middle">4</text><text x="325.70" y="369.00" font-size="10.0" textLength="9.7" lengthAdjust="spacingAndGlyphs">12</text><text x="343.10" y="369.00" font-size="10.0" text-anchor="middle">1</text><text x="355.10" y="369.00" font-size="10.0" text-anchor="middle">2</text><text x="466.10" y="369.00" font-size="10.0" text-anchor="middle">4</text><text x="478.10" y="369.00" font-size="10.0" text-anchor="middle">3</text><text x="503.10" y="369.00" font-size="10.0" text-anchor="middle">5</text><text x="510.70" y="369.00" font-size="10.0" textLength="9.7" lengthAdjust="spacingAndGlyphs">10</text><text x="528.10" y="369.00" font-size="10.0" text-anchor="middle">4</text><text x="540.10" y="369.00" font-size="10.0" text-anchor="middle">3</text><text x="552.10" y="369.00" font-size="10.0" text-anchor="middle">6</text><text x="565.10" y="369.00" font-size="10.0" text-anchor="middle">5</text><text x="577.10" y="369.00" font-size="10.0" text-anchor="middle">3</text><text x="589.10" y="369.00" font-size="10.0" text-anchor="middle">3</text><text x="602.10" y="369.00" font-size="10.0" text-anchor="middle">6</text><text x="658.70" y="369.00" font-size="10.0" textLength="9.7" lengthAdjust="spacingAndGlyphs">10</text><text x="720.70" y="369.00" font-size="10.0" textLength="9.7" lengthAdjust="spacingAndGlyphs">31</text><text x="737.10" y="369.00" font-size="10.0" text-anchor="middle">6</text><text x="745.70" y="369.00" font-size="10.0" textLength="9.7" lengthAdjust="spacingAndGlyphs">15</text><text x="762.10" y="369.00" font-size="10.0" text-anchor="middle">1</text><text x="774.10" y="369.00" font-size="10.0" text-anchor="middle">9</text><text x="782.70" y="369.00" font-size="10.0" textLength="9.7" lengthAdjust="spacingAndGlyphs">10</text><text x="799.10" y="369.00" font-size="10.0" text-anchor="middle">6</text><text x="910.10" y="369.00" font-size="10.0" text-anchor="middle">4</text><text x="281.10" y="383.00" font-size="10.0" text-anchor="middle">9</text><text x="293.10" y="383.00" font-size="10.0" text-anchor="middle">6</text><text x="301.70" y="383.00" font-size="10.0" textLength="9.7" lengthAdjust="spacingAndGlyphs">36</text><text x="313.70" y="383.00" font-size="10.0" textLength="9.7" lengthAdjust="spacingAndGlyphs">12</text><text x="325.70" y="383.00" font-size="10.0" textLength="9.7" lengthAdjust="spacingAndGlyphs">12</text><text x="343.10" y="383.00" font-size="10.0" text-anchor="middle">4</text><text x="355.10" y="383.00" font-size="10.0" text-anchor="middle">4</text><text x="367.10" y="383.00" font-size="10.0" text-anchor="middle">4</text><text x="375.70" y="383.00" font-size="10.0" textLength="9.7" lengthAdjust="spacingAndGlyphs">12</text><text x="392.10" y="383.00" font-size="10.0" text-anchor="middle">4</text><text x="404.10" y="383.00" font-size="10.0" text-anchor="middle">2</text><text x="503.10" y="383.00" font-size="10.0" text-anchor="middle">5</text><text x="515.10" y="383.00" font-size="10.0" text-anchor="middle">6</text><text x="528.10" y="383.00" font-size="10.0" text-anchor="middle">3</text><text x="540.10" y="383.00" font-size="10.0" text-anchor="middle">4</text><text x="552.10" y="383.00" font-size="10.0" text-anchor="middle">3</text><text x="565.10" y="383.00" font-size="10.0" text-anchor="middle">3</text><text x="577.10" y="383.00" font-size="10.0" text-anchor="middle">4</text><text x="589.10" y="383.00" font-size="10.0" text-anchor="middle">5</text><text x="626.10" y="383.00" font-size="10.0" text-anchor="middle">1</text><text x="732.70" y="383.00" font-size="10.0" textLength="9.7" lengthAdjust="spacingAndGlyphs">23</text><text x="750.10" y="383.00" font-size="10.0" text-anchor="middle">7</text><text x="757.70" y="383.00" font-size="10.0" textLength="9.7" lengthAdjust="spacingAndGlyphs">38</text><text x="769.70" y="383.00" font-size="10.0" textLength="9.7" lengthAdjust="spacingAndGlyphs">19</text><text x="787.10" y="383.00" font-size="10.0" text-anchor="middle">9</text><text x="799.10" y="383.00" font-size="10.0" text-anchor="middle">3</text><text x="811.10" y="383.00" font-size="10.0" text-anchor="middle">4</text><text x="824.10" y="383.00" font-size="10.0" text-anchor="middle">6</text><text x="836.10" y="383.00" font-size="10.0" text-anchor="middle">7</text><text x="848.10" y="383.00" font-size="10.0" text-anchor="middle">5</text><text x="861.10" y="383.00" font-size="10.0" text-anchor="middle">4</text><text x="922.10" y="383.00" font-size="10.0" text-anchor="middle">2</text><text x="59.10" y="397.00" font-size="10.0" text-anchor="middle">8</text><text x="91.70" y="397.00" font-size="10.0" textLength="9.7" lengthAdjust="spacingAndGlyphs">10</text><text x="145.10" y="397.00" font-size="10.0" text-anchor="middle">0</text><text x="281.10" y="397.00" font-size="10.0" text-anchor="middle">6</text><text x="288.70" y="397.00" font-size="10.0" textLength="9.7" lengthAdjust="spacingAndGlyphs">14</text><text x="301.70" y="397.00" font-size="10.0" textLength="9.7" lengthAdjust="spacingAndGlyphs">18</text><text x="318.10" y="397.00" font-size="10.0" text-anchor="middle">7</text><text x="325.70" y="397.00" font-size="10.0" textLength="9.7" lengthAdjust="spacingAndGlyphs">11</text><text x="343.10" y="397.00" font-size="10.0" text-anchor="middle">7</text><text x="355.10" y="397.00" font-size="10.0" text-anchor="middle">5</text><text x="367.10" y="397.00" font-size="10.0" text-anchor="middle">8</text><text x="380.10" y="397.00" font-size="10.0" text-anchor="middle">2</text><text x="392.10" y="397.00" font-size="10.0" text-anchor="middle">3</text><text x="404.10" y="397.00" font-size="10.0" text-anchor="middle">6</text><text x="454.10" y="397.00" font-size="10.0" text-anchor="middle">0</text><text x="515.10" y="397.00" font-size="10.0" text-anchor="middle">2</text><text x="528.10" y="397.00" font-size="10.0" text-anchor="middle">2</text><text x="540.10" y="397.00" font-size="10.0" text-anchor="middle">2</text><text x="552.10" y="397.00" font-size="10.0" text-anchor="middle">1</text><text x="565.10" y="397.00" font-size="10.0" text-anchor="middle">2</text><text x="577.10" y="397.00" font-size="10.0" text-anchor="middle">7</text><text x="663.10" y="397.00" font-size="10.0" text-anchor="middle">5</text><text x="745.70" y="397.00" font-size="10.0" textLength="9.7" lengthAdjust="spacingAndGlyphs">28</text><text x="762.10" y="397.00" font-size="10.0" text-anchor="middle">9</text><text x="774.10" y="397.00" font-size="10.0" text-anchor="middle">5</text><text x="787.10" y="397.00" font-size="10.0" text-anchor="middle">2</text><text x="799.10" y="397.00" font-size="10.0" text-anchor="middle">3</text><text x="806.70" y="397.00" font-size="10.0" textLength="9.7" lengthAdjust="spacingAndGlyphs">16</text><text x="836.10" y="397.00" font-size="10.0" text-anchor="middle">2</text><text x="848.10" y="397.00" font-size="10.0" text-anchor="middle">4</text><text x="873.10" y="397.00" font-size="10.0" text-anchor="middle">9</text><text x="885.10" y="397.00" font-size="10.0" text-anchor="middle">5</text><text x="922.10" y="397.00" font-size="10.0" text-anchor="middle">2</text><text x="47.10" y="412.00" font-size="10.0" text-anchor="middle">3</text><text x="59.10" y="412.00" font-size="10.0" text-anchor="middle">2</text><text x="71.10" y="412.00" font-size="10.0" text-anchor="middle">4</text><text x="84.10" y="412.00" font-size="10.0" text-anchor="middle">6</text><text x="121.10" y="412.00" font-size="10.0" text-anchor="middle">0</text><text x="293.10" y="412.00" font-size="10.0" text-anchor="middle">4</text><text x="301.70" y="412.00" font-size="10.0" textLength="9.7" lengthAdjust="spacingAndGlyphs">11</text><text x="313.70" y="412.00" font-size="10.0" textLength="9.7" lengthAdjust="spacingAndGlyphs">28</text><text x="330.10" y="412.00" font-size="10.0" text-anchor="middle">4</text><text x="343.10" y="412.00" font-size="10.0" text-anchor="middle">5</text><text x="355.10" y="412.00" font-size="10.0" text-anchor="middle">4</text><text x="367.10" y="412.00" font-size="10.0" text-anchor="middle">6</text><text x="380.10" y="412.00" font-size="10.0" text-anchor="middle">1</text><text x="387.70" y="412.00" font-size="10.0" textLength="9.7" lengthAdjust="spacingAndGlyphs">10</text><text x="515.10" y="412.00" font-size="10.0" text-anchor="middle">1</text><text x="528.10" y="412.00" font-size="10.0" text-anchor="middle">2</text><text x="540.10" y="412.00" font-size="10.0" text-anchor="middle">0</text><text x="552.10" y="412.00" font-size="10.0" text-anchor="middle">1</text><text x="565.10" y="412.00" font-size="10.0" text-anchor="middle">0</text><text x="577.10" y="412.00" font-size="10.0" text-anchor="middle">1</text><text x="589.10" y="412.00" font-size="10.0" text-anchor="middle">1</text><text x="602.10" y="412.00" font-size="10.0" text-anchor="middle">1</text><text x="614.10" y="412.00" font-size="10.0" text-anchor="middle">1</text><text x="626.10" y="412.00" font-size="10.0" text-anchor="middle">1</text><text x="725.10" y="412.00" font-size="10.0" text-anchor="middle">2</text><text x="787.10" y="412.00" font-size="10.0" text-anchor="middle">3</text><text x="811.10" y="412.00" font-size="10.0" text-anchor="middle">0</text><text x="824.10" y="412.00" font-size="10.0" text-anchor="middle">3</text><text x="836.10" y="412.00" font-size="10.0" text-anchor="middle">4</text><text x="861.10" y="412.00" font-size="10.0" text-anchor="middle">6</text><text x="880.70" y="412.00" font-size="10.0" textLength="9.7" lengthAdjust="spacingAndGlyphs">10</text><text x="893.70" y="412.00" font-size="10.0" textLength="9.7" lengthAdjust="spacingAndGlyphs">14</text><text x="922.10" y="412.00" font-size="10.0" text-anchor="middle">1</text><text x="47.10" y="426.00" font-size="10.0" text-anchor="middle">1</text><text x="59.10" y="426.00" font-size="10.0" text-anchor="middle">7</text><text x="71.10" y="426.00" font-size="10.0" text-anchor="middle">9</text><text x="84.10" y="426.00" font-size="10.0" text-anchor="middle">2</text><text x="96.10" y="426.00" font-size="10.0" text-anchor="middle">4</text><text x="108.10" y="426.00" font-size="10.0" text-anchor="middle">0</text><text x="121.10" y="426.00" font-size="10.0" text-anchor="middle">1</text><text x="133.10" y="426.00" font-size="10.0" text-anchor="middle">0</text><text x="293.10" y="426.00" font-size="10.0" text-anchor="middle">1</text><text x="306.10" y="426.00" font-size="10.0" text-anchor="middle">3</text><text x="318.10" y="426.00" font-size="10.0" text-anchor="middle">6</text><text x="330.10" y="426.00" font-size="10.0" text-anchor="middle">8</text><text x="343.10" y="426.00" font-size="10.0" text-anchor="middle">2</text><text x="355.10" y="426.00" font-size="10.0" text-anchor="middle">3</text><text x="367.10" y="426.00" font-size="10.0" text-anchor="middle">2</text><text x="380.10" y="426.00" font-size="10.0" text-anchor="middle">2</text><text x="392.10" y="426.00" font-size="10.0" text-anchor="middle">2</text><text x="466.10" y="426.00" font-size="10.0" text-anchor="middle">0</text><text x="515.10" y="426.00" font-size="10.0" text-anchor="middle">1</text><text x="528.10" y="426.00" font-size="10.0" text-anchor="middle">1</text><text x="540.10" y="426.00" font-size="10.0" text-anchor="middle">0</text><text x="552.10" y="426.00" font-size="10.0" text-anchor="middle">0</text><text x="565.10" y="426.00" font-size="10.0" text-anchor="middle">1</text><text x="577.10" y="426.00" font-size="10.0" text-anchor="middle">1</text><text x="589.10" y="426.00" font-size="10.0" text-anchor="middle">1</text><text x="602.10" y="426.00" font-size="10.0" text-anchor="middle">0</text><text x="614.10" y="426.00" font-size="10.0" text-anchor="middle">0</text><text x="626.10" y="426.00" font-size="10.0" text-anchor="middle">0</text><text x="639.10" y="426.00" font-size="10.0" text-anchor="middle">0</text><text x="787.10" y="426.00" font-size="10.0" text-anchor="middle">0</text><text x="799.10" y="426.00" font-size="10.0" text-anchor="middle">1</text><text x="811.10" y="426.00" font-size="10.0" text-anchor="middle">0</text><text x="824.10" y="426.00" font-size="10.0" text-anchor="middle">0</text><text x="836.10" y="426.00" font-size="10.0" text-anchor="middle">2</text><text x="848.10" y="426.00" font-size="10.0" text-anchor="middle">5</text><text x="898.10" y="426.00" font-size="10.0" text-anchor="middle">3</text><text x="922.10" y="426.00" font-size="10.0" text-anchor="middle">0</text><text x="47.10" y="440.00" font-size="10.0" text-anchor="middle">1</text><text x="96.10" y="440.00" font-size="10.0" text-anchor="middle">3</text><text x="121.10" y="440.00" font-size="10.0" text-anchor="middle">2</text><text x="145.10" y="440.00" font-size="10.0" text-anchor="middle">1</text><text x="158.10" y="440.00" font-size="10.0" text-anchor="middle">0</text><text x="306.10" y="440.00" font-size="10.0" text-anchor="middle">1</text><text x="318.10" y="440.00" font-size="10.0" text-anchor="middle">2</text><text x="330.10" y="440.00" font-size="10.0" text-anchor="middle">1</text><text x="343.10" y="440.00" font-size="10.0" text-anchor="middle">1</text><text x="355.10" y="440.00" font-size="10.0" text-anchor="middle">1</text><text x="367.10" y="440.00" font-size="10.0" text-anchor="middle">3</text><text x="380.10" y="440.00" font-size="10.0" text-anchor="middle">4</text><text x="417.10" y="440.00" font-size="10.0" text-anchor="middle">6</text><text x="515.10" y="440.00" font-size="10.0" text-anchor="middle">0</text><text x="528.10" y="440.00" font-size="10.0" text-anchor="middle">1</text><text x="540.10" y="440.00" font-size="10.0" text-anchor="middle">0</text><text x="552.10" y="440.00" font-size="10.0" text-anchor="middle">0</text><text x="565.10" y="440.00" font-size="10.0" text-anchor="middle">0</text><text x="577.10" y="440.00" font-size="10.0" text-anchor="middle">0</text><text x="589.10" y="440.00" font-size="10.0" text-anchor="middle">1</text><text x="602.10" y="440.00" font-size="10.0" text-anchor="middle">1</text><text x="626.10" y="440.00" font-size="10.0" text-anchor="middle">1</text><text x="762.10" y="440.00" font-size="10.0" text-anchor="middle">1</text><text x="774.10" y="440.00" font-size="10.0" text-anchor="middle">1</text><text x="811.10" y="440.00" font-size="10.0" text-anchor="middle">1</text><text x="824.10" y="440.00" font-size="10.0" text-anchor="middle">4</text><text x="836.10" y="440.00" font-size="10.0" text-anchor="middle">2</text><text x="848.10" y="440.00" font-size="10.0" text-anchor="middle">4</text><text x="861.10" y="440.00" font-size="10.0" text-anchor="middle">4</text><text x="885.10" y="440.00" font-size="10.0" text-anchor="middle">0</text><text x="898.10" y="440.00" font-size="10.0" text-anchor="middle">1</text><text x="47.10" y="454.00" font-size="10.0" text-anchor="middle">4</text><text x="133.10" y="454.00" font-size="10.0" text-anchor="middle">3</text><text x="219.10" y="454.00" font-size="10.0" text-anchor="middle">5</text><text x="306.10" y="454.00" font-size="10.0" text-anchor="middle">2</text><text x="318.10" y="454.00" font-size="10.0" text-anchor="middle">3</text><text x="330.10" y="454.00" font-size="10.0" text-anchor="middle">4</text><text x="343.10" y="454.00" font-size="10.0" text-anchor="middle">4</text><text x="355.10" y="454.00" font-size="10.0" text-anchor="middle">5</text><text x="367.10" y="454.00" font-size="10.0" text-anchor="middle">4</text><text x="528.10" y="454.00" font-size="10.0" text-anchor="middle">1</text><text x="540.10" y="454.00" font-size="10.0" text-anchor="middle">1</text><text x="552.10" y="454.00" font-size="10.0" text-anchor="middle">1</text><text x="565.10" y="454.00" font-size="10.0" text-anchor="middle">1</text><text x="602.10" y="454.00" font-size="10.0" text-anchor="middle">1</text><text x="762.10" y="454.00" font-size="10.0" text-anchor="middle">3</text><text x="774.10" y="454.00" font-size="10.0" text-anchor="middle">2</text><text x="787.10" y="454.00" font-size="10.0" text-anchor="middle">5</text><text x="799.10" y="454.00" font-size="10.0" text-anchor="middle">1</text><text x="811.10" y="454.00" font-size="10.0" text-anchor="middle">2</text><text x="824.10" y="454.00" font-size="10.0" text-anchor="middle">3</text><text x="836.10" y="454.00" font-size="10.0" text-anchor="middle">3</text><text x="848.10" y="454.00" font-size="10.0" text-anchor="middle">5</text><text x="861.10" y="454.00" font-size="10.0" text-anchor="middle">3</text><text x="898.10" y="454.00" font-size="10.0" text-anchor="middle">3</text><text x="293.10" y="469.00" font-size="10.0" text-anchor="middle">6</text><text x="306.10" y="469.00" font-size="10.0" text-anchor="middle">6</text><text x="318.10" y="469.00" font-size="10.0" text-anchor="middle">2</text><text x="330.10" y="469.00" font-size="10.0" text-anchor="middle">4</text><text x="343.10" y="469.00" font-size="10.0" text-anchor="middle">3</text><text x="355.10" y="469.00" font-size="10.0" text-anchor="middle">2</text><text x="528.10" y="469.00" font-size="10.0" text-anchor="middle">1</text><text x="540.10" y="469.00" font-size="10.0" text-anchor="middle">2</text><text x="552.10" y="469.00" font-size="10.0" text-anchor="middle">1</text><text x="565.10" y="469.00" font-size="10.0" text-anchor="middle">3</text><text x="774.10" y="469.00" font-size="10.0" text-anchor="middle">2</text><text x="787.10" y="469.00" font-size="10.0" text-anchor="middle">2</text><text x="799.10" y="469.00" font-size="10.0" text-anchor="middle">1</text><text x="811.10" y="469.00" font-size="10.0" text-anchor="middle">3</text><text x="824.10" y="469.00" font-size="10.0" text-anchor="middle">3</text><text x="836.10" y="469.00" font-size="10.0" text-anchor="middle">4</text><text x="848.10" y="469.00" font-size="10.0" text-anchor="middle">7</text><text x="861.10" y="469.00" font-size="10.0" text-anchor="middle">2</text><text x="910.10" y="469.00" font-size="10.0" text-anchor="middle">1</text><text x="301.70" y="483.00" font-size="10.0" textLength="9.7" lengthAdjust="spacingAndGlyphs">14</text><text x="318.10" y="483.00" font-size="10.0" text-anchor="middle">7</text><text x="330.10" y="483.00" font-size="10.0" text-anchor="middle">8</text><text x="343.10" y="483.00" font-size="10.0" text-anchor="middle">7</text><text x="676.10" y="483.00" font-size="10.0" text-anchor="middle">2</text><text x="824.10" y="483.00" font-size="10.0" text-anchor="middle">4</text><text x="836.10" y="483.00" font-size="10.0" text-anchor="middle">3</text><text x="848.10" y="483.00" font-size="10.0" text-anchor="middle">2</text><text x="861.10" y="483.00" font-size="10.0" text-anchor="middle">2</text><text x="910.10" y="483.00" font-size="10.0" text-anchor="middle">3</text><text x="922.10" y="483.00" font-size="10.0" text-anchor="middle">4</text><text x="47.10" y="497.00" font-size="10.0" text-anchor="middle">4</text><text x="301.70" y="497.00" font-size="10.0" textLength="9.7" lengthAdjust="spacingAndGlyphs">10</text><text x="318.10" y="497.00" font-size="10.0" text-anchor="middle">6</text><text x="330.10" y="497.00" font-size="10.0" text-anchor="middle">9</text><text x="466.10" y="497.00" font-size="10.0" text-anchor="middle">9</text><text x="848.10" y="497.00" font-size="10.0" text-anchor="middle">3</text><text x="898.10" y="497.00" font-size="10.0" text-anchor="middle">9</text><text x="910.10" y="497.00" font-size="10.0" text-anchor="middle">3</text><text x="922.10" y="497.00" font-size="10.0" text-anchor="middle">2</text><text x="301.70" y="511.00" font-size="10.0" textLength="9.7" lengthAdjust="spacingAndGlyphs">11</text><text x="318.10" y="511.00" font-size="10.0" text-anchor="middle">5</text><text x="577.10" y="511.00" font-size="10.0" text-anchor="middle">8</text><text x="614.10" y="511.00" font-size="10.0" text-anchor="middle">4</text><text x="663.10" y="511.00" font-size="10.0" text-anchor="middle">3</text><text x="898.10" y="511.00" font-size="10.0" text-anchor="middle">5</text><text x="910.10" y="511.00" font-size="10.0" text-anchor="middle">1</text><text x="300.10" y="526.00" font-size="10.0" text-anchor="middle">7</text><text x="324.10" y="526.00" font-size="10.0" text-anchor="middle">9</text><text x="349.10" y="526.00" font-size="10.0" text-anchor="middle">2</text><text x="867.10" y="526.00" font-size="10.0" text-anchor="middle">6</text><text x="892.10" y="526.00" font-size="10.0" text-anchor="middle">6</text><text x="319.70" y="554.00" font-size="10.0" textLength="9.7" lengthAdjust="spacingAndGlyphs">10</text><text x="349.10" y="554.00" font-size="10.0" text-anchor="middle">6</text><text x="369.70" y="554.00" font-size="10.0" textLength="9.7" lengthAdjust="spacingAndGlyphs">12</text><text x="324.10" y="568.00" font-size="10.0" text-anchor="middle">9</text><text x="571.10" y="568.00" font-size="10.0" text-anchor="middle">9</text><text x="596.10" y="568.00" font-size="10.0" text-anchor="middle">5</text><text x="640.70" y="568.00" font-size="10.0" textLength="9.7" lengthAdjust="spacingAndGlyphs">10</text><text x="665.70" y="568.00" font-size="10.0" textLength="9.7" lengthAdjust="spacingAndGlyphs">15</text><text x="719.10" y="568.00" font-size="10.0" text-anchor="middle">8</text><text x="763.70" y="568.00" font-size="10.0" textLength="9.7" lengthAdjust="spacingAndGlyphs">13</text><text x="842.10" y="568.00" font-size="10.0" text-anchor="middle">6</text><text x="862.70" y="568.00" font-size="10.0" textLength="9.7" lengthAdjust="spacingAndGlyphs">11</text><text x="159.70" y="583.00" font-size="10.0" textLength="9.7" lengthAdjust="spacingAndGlyphs">13</text><text x="455.70" y="583.00" font-size="10.0" textLength="9.7" lengthAdjust="spacingAndGlyphs">17</text><text x="509.10" y="583.00" font-size="10.0" text-anchor="middle">6</text><text x="559.10" y="583.00" font-size="10.0" text-anchor="middle">7</text><text x="603.70" y="583.00" font-size="10.0" textLength="9.7" lengthAdjust="spacingAndGlyphs">19</text><text x="406.70" y="597.00" font-size="10.0" textLength="9.7" lengthAdjust="spacingAndGlyphs">15</text><text x="756.10" y="597.00" font-size="10.0" text-anchor="middle">1</text><text x="899.70" y="597.00" font-size="10.0" textLength="9.7" lengthAdjust="spacingAndGlyphs">24</text><text x="974.00" y="141.00" font-size="10.0" text-anchor="middle">3</text><text x="974.00" y="155.00" font-size="10.0" text-anchor="middle">4</text><text x="974.00" y="170.00" font-size="10.0" text-anchor="middle">4</text><text x="974.00" y="184.00" font-size="10.0" text-anchor="middle">6</text><text x="974.00" y="198.00" font-size="10.0" text-anchor="middle">5</text><text x="974.00" y="212.00" font-size="10.0" text-anchor="middle">5</text><text x="974.00" y="226.00" font-size="10.0" text-anchor="middle">4</text><text x="974.00" y="241.00" font-size="10.0" text-anchor="middle">3</text><text x="974.00" y="255.00" font-size="10.0" text-anchor="middle">4</text><text x="974.00" y="269.00" font-size="10.0" text-anchor="middle">4</text><text x="974.00" y="283.00" font-size="10.0" text-anchor="middle">3</text><text x="974.00" y="298.00" font-size="10.0" text-anchor="middle">3</text><text x="974.00" y="312.00" font-size="10.0" text-anchor="middle">2</text><text x="974.00" y="326.00" font-size="10.0" text-anchor="middle">2</text><text x="974.00" y="340.00" font-size="10.0" text-anchor="middle">2</text><text x="974.00" y="355.00" font-size="10.0" text-anchor="middle">7</text><text x="974.00" y="369.00" font-size="10.0" text-anchor="middle">6</text><text x="970.00" y="383.00" font-size="10.0" textLength="9.7" lengthAdjust="spacingAndGlyphs">10</text><text x="974.00" y="397.00" font-size="10.0" text-anchor="middle">6</text><text x="974.00" y="412.00" font-size="10.0" text-anchor="middle">5</text><text x="974.00" y="426.00" font-size="10.0" text-anchor="middle">2</text><text x="974.00" y="440.00" font-size="10.0" text-anchor="middle">2</text><text x="974.00" y="454.00" font-size="10.0" text-anchor="middle">3</text><text x="974.00" y="469.00" font-size="10.0" text-anchor="middle">3</text><text x="974.00" y="483.00" font-size="10.0" text-anchor="middle">6</text><text x="974.00" y="497.00" font-size="10.0" text-anchor="middle">6</text><text x="974.00" y="511.00" font-size="10.0" text-anchor="middle">8</text><text x="974.00" y="526.00" font-size="10.0" text-anchor="middle">7</text><text x="974.00" y="554.00" font-size="10.0" text-anchor="middle">8</text><text x="974.00" y="568.00" font-size="10.0" text-anchor="middle">9</text><text x="970.00" y="583.00" font-size="10.0" textLength="9.7" lengthAdjust="spacingAndGlyphs">16</text><text x="974.00" y="597.00" font-size="10.0" text-anchor="middle">3</text></g></svg></body></html>
